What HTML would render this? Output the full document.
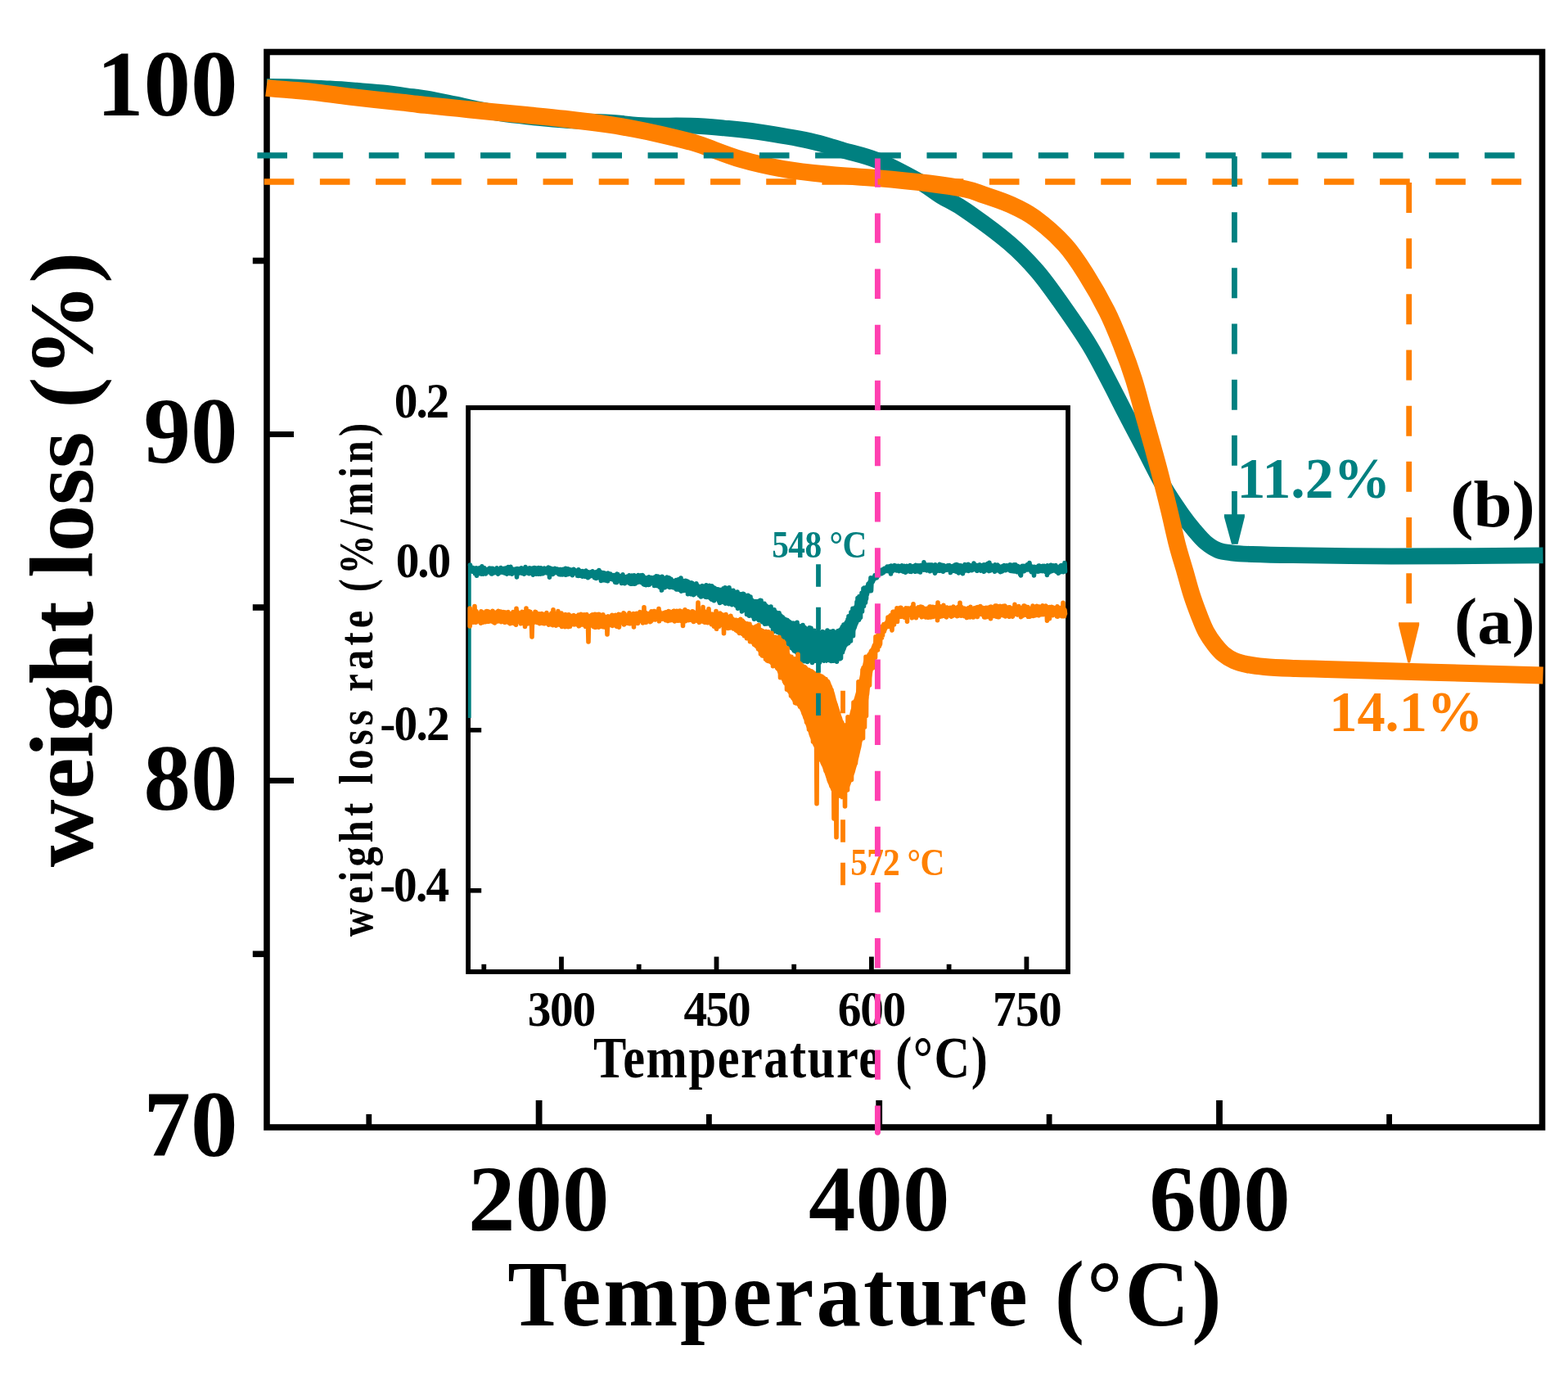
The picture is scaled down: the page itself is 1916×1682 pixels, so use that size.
<!DOCTYPE html><html><head><meta charset="utf-8"><title>TGA</title><style>html,body{margin:0;padding:0;background:#fff;overflow:hidden;}svg{display:block;}text{font-family:'Liberation Serif','Times New Roman',serif;font-weight:bold;}</style></head><body>
<svg width="1916" height="1682" viewBox="0 0 1916 1682">
<rect width="1916" height="1682" fill="#fff"/>
<rect x="326" y="63.5" width="1558.5" height="1313.5" fill="none" stroke="#000" stroke-width="7.6"/>
<g stroke="#000"><line x1="658.6" y1="1377" x2="658.6" y2="1344" stroke-width="7.8"/><line x1="1074.2" y1="1377" x2="1074.2" y2="1344" stroke-width="7.8"/><line x1="1490" y1="1377" x2="1490" y2="1344" stroke-width="7.8"/><line x1="450.8" y1="1377" x2="450.8" y2="1361" stroke-width="6.8"/><line x1="866.4" y1="1377" x2="866.4" y2="1361" stroke-width="6.8"/><line x1="1282.1" y1="1377" x2="1282.1" y2="1361" stroke-width="6.8"/><line x1="1697.6" y1="1377" x2="1697.6" y2="1361" stroke-width="6.8"/><line x1="326" y1="107.6" x2="359" y2="107.6" stroke-width="7"/><line x1="326" y1="530.5" x2="359" y2="530.5" stroke-width="7"/><line x1="326" y1="953.4" x2="359" y2="953.4" stroke-width="7"/><line x1="326" y1="318.5" x2="308.8" y2="318.5" stroke-width="7.6"/><line x1="326" y1="742" x2="308.8" y2="742" stroke-width="7.6"/><line x1="326" y1="1165.3" x2="308.8" y2="1165.3" stroke-width="7.6"/></g>
<text x="290.5" y="140.9" font-size="115" text-anchor="end">100</text>
<text x="290.5" y="565.0" font-size="115" text-anchor="end">90</text>
<text x="290.5" y="988.8" font-size="115" text-anchor="end">80</text>
<text x="290.5" y="1411.9" font-size="115" text-anchor="end">70</text>
<text x="658.2" y="1502.8" font-size="115" text-anchor="middle">200</text>
<text x="1074.3" y="1502.8" font-size="115" text-anchor="middle">400</text>
<text x="1490.5" y="1502.8" font-size="115" text-anchor="middle">600</text>
<text transform="translate(620.19,1619.00) scale(0.95,1)" x="0" y="0" font-size="115" fill="#000" textLength="918.43" lengthAdjust="spacing">Temperature (°C)</text>
<text transform="translate(113,1059.2) rotate(-90)" x="0" y="0" font-size="111" fill="#000" textLength="751.4" lengthAdjust="spacingAndGlyphs">weight loss (%)</text>
<rect x="572.1" y="498" width="732.9" height="689.0" fill="none" stroke="#000" stroke-width="5.8"/>
<g stroke="#000"><line x1="686" y1="1187" x2="686" y2="1168.6" stroke-width="5.8"/><line x1="875.5" y1="1187" x2="875.5" y2="1168.6" stroke-width="5.8"/><line x1="1064.9" y1="1187" x2="1064.9" y2="1168.6" stroke-width="5.8"/><line x1="1254.4" y1="1187" x2="1254.4" y2="1168.6" stroke-width="5.8"/><line x1="591.3" y1="1187" x2="591.3" y2="1177.8" stroke-width="5.8"/><line x1="780.7" y1="1187" x2="780.7" y2="1177.8" stroke-width="5.8"/><line x1="970.2" y1="1187" x2="970.2" y2="1177.8" stroke-width="5.8"/><line x1="1159.6" y1="1187" x2="1159.6" y2="1177.8" stroke-width="5.8"/><line x1="572.1" y1="695.8" x2="588.2" y2="695.8" stroke-width="5.6"/><line x1="572.1" y1="891.8" x2="588.2" y2="891.8" stroke-width="5.6"/><line x1="572.1" y1="1087.8" x2="588.2" y2="1087.8" stroke-width="5.6"/></g>
<text transform="translate(481.87,509.80) scale(0.94,1)" x="0" y="0" font-size="61" fill="#000" textLength="71.70" lengthAdjust="spacing">0.2</text>
<text transform="translate(483.81,705.20) scale(0.94,1)" x="0" y="0" font-size="61" fill="#000" textLength="71.68" lengthAdjust="spacing">0.0</text>
<text transform="translate(464.30,903.90) scale(0.94,1)" x="0" y="0" font-size="61" fill="#000" textLength="90.71" lengthAdjust="spacing">-0.2</text>
<text transform="translate(463.89,1100.90) scale(0.94,1)" x="0" y="0" font-size="61" fill="#000" textLength="90.61" lengthAdjust="spacing">-0.4</text>
<text transform="translate(644.64,1252.60) scale(0.94,1)" x="0" y="0" font-size="61" fill="#000" textLength="88.87" lengthAdjust="spacing">300</text>
<text transform="translate(835.52,1252.60) scale(0.94,1)" x="0" y="0" font-size="61" fill="#000" textLength="87.41" lengthAdjust="spacing">450</text>
<text transform="translate(1023.84,1252.60) scale(0.94,1)" x="0" y="0" font-size="61" fill="#000" textLength="88.66" lengthAdjust="spacing">600</text>
<text transform="translate(1212.92,1252.60) scale(0.94,1)" x="0" y="0" font-size="61" fill="#000" textLength="90.06" lengthAdjust="spacing">750</text>
<text transform="translate(724.95,1315.60) scale(0.84,1)" x="0" y="0" font-size="72" fill="#000" textLength="573.69" lengthAdjust="spacing">Temperature (°C)</text>
<text transform="translate(455.40,1144.24) rotate(-90) scale(0.81,1)" x="0" y="0" font-size="60" fill="#000" textLength="774.66" lengthAdjust="spacing">weight loss rate (%/min)</text>
<line x1="573.8" y1="690" x2="573.8" y2="877" stroke="#008080" stroke-width="3.8"/>
<polygon points="576.0,693.6 577.0,694.7 578.0,693.6 579.0,694.2 580.0,694.6 581.0,694.1 582.0,694.2 583.0,694.6 584.0,693.9 585.0,694.6 586.0,693.5 587.0,694.0 588.0,694.8 589.0,694.2 590.0,693.5 591.0,694.1 592.0,694.5 593.0,693.8 594.0,693.9 595.0,694.6 596.0,694.7 597.0,694.5 598.0,694.1 599.0,694.8 600.0,694.7 601.0,694.2 602.0,694.5 603.0,694.8 604.0,694.3 605.0,694.4 606.0,693.7 607.0,694.6 608.0,694.8 609.0,694.7 610.0,694.9 611.0,694.3 612.0,694.6 613.0,693.5 614.0,693.5 615.0,693.7 616.0,693.6 617.0,694.1 618.0,694.8 619.0,693.7 620.0,694.4 621.0,694.4 622.0,694.2 623.0,694.4 624.0,694.2 625.0,694.1 626.0,694.1 627.0,694.5 628.0,693.4 629.0,693.6 630.0,693.9 631.0,694.7 632.0,693.8 633.0,694.0 634.0,694.1 635.0,694.2 636.0,694.7 637.0,694.4 638.0,694.5 639.0,694.0 640.0,693.7 641.0,693.8 642.0,694.2 643.0,694.0 644.0,694.4 645.0,693.6 646.0,693.9 647.0,693.8 648.0,694.7 649.0,693.5 650.0,693.8 651.0,694.1 652.0,693.5 653.0,694.3 654.0,694.8 655.0,694.2 656.0,693.4 657.0,693.6 658.0,694.8 659.0,693.4 660.0,694.0 661.0,693.7 662.0,694.0 663.0,694.5 664.0,694.0 665.0,694.2 666.0,694.2 667.0,694.1 668.0,694.3 669.0,693.5 670.0,694.6 671.0,694.4 672.0,694.8 673.0,694.4 674.0,694.6 675.0,694.6 676.0,694.8 677.0,693.7 678.0,694.9 679.0,694.6 680.0,694.2 681.0,693.8 682.0,695.0 683.0,694.0 684.0,695.1 685.0,694.2 686.0,694.8 687.0,694.6 688.0,695.0 689.0,695.2 690.0,694.7 691.0,694.5 692.0,694.5 693.0,694.5 694.0,695.7 695.0,694.6 696.0,695.9 697.0,695.2 698.0,695.8 699.0,695.8 700.0,695.5 701.0,695.9 702.0,695.9 703.0,695.9 704.0,695.7 705.0,695.5 706.0,697.1 707.0,696.2 708.0,696.8 709.0,697.2 710.0,697.5 711.0,697.5 712.0,697.7 713.0,697.4 714.0,696.9 715.0,698.1 716.0,696.9 717.0,697.5 718.0,697.3 719.0,698.6 720.0,697.9 721.0,698.6 722.0,697.6 723.0,698.9 724.0,698.7 725.0,698.8 726.0,698.8 727.0,698.3 728.0,698.2 729.0,699.6 730.0,698.5 731.0,699.0 732.0,699.3 733.0,698.9 734.0,698.9 735.0,699.5 736.0,699.1 737.0,700.2 738.0,700.5 739.0,700.0 740.0,699.6 741.0,700.3 742.0,700.1 743.0,699.9 744.0,700.4 745.0,701.2 746.0,701.6 747.0,700.7 748.0,700.6 749.0,701.4 750.0,701.0 751.0,701.9 752.0,700.9 753.0,702.0 754.0,701.6 755.0,702.2 756.0,702.6 757.0,701.8 758.0,701.7 759.0,701.7 760.0,702.8 761.0,702.7 762.0,702.9 763.0,701.9 764.0,702.1 765.0,701.9 766.0,701.8 767.0,703.2 768.0,702.4 769.0,703.2 770.0,703.0 771.0,702.8 772.0,702.8 773.0,702.2 774.0,703.2 775.0,703.2 776.0,702.7 777.0,702.7 778.0,703.5 779.0,702.6 780.0,702.9 781.0,703.8 782.0,702.7 783.0,703.1 784.0,702.9 785.0,703.4 786.0,702.8 787.0,702.6 788.0,702.6 789.0,703.7 790.0,703.3 791.0,703.0 792.0,703.0 793.0,703.2 794.0,703.2 795.0,703.9 796.0,703.7 797.0,703.8 798.0,703.9 799.0,704.5 800.0,703.7 801.0,703.8 802.0,704.3 803.0,703.5 804.0,704.4 805.0,704.7 806.0,703.9 807.0,703.8 808.0,704.6 809.0,704.9 810.0,704.5 811.0,704.7 812.0,704.4 813.0,705.9 814.0,705.5 815.0,705.8 816.0,705.9 817.0,705.8 818.0,706.6 819.0,706.6 820.0,706.8 821.0,706.3 822.0,706.2 823.0,707.2 824.0,707.2 825.0,707.5 826.0,708.1 827.0,707.5 828.0,708.2 829.0,707.5 830.0,707.6 831.0,708.8 832.0,709.4 833.0,708.7 834.0,709.1 835.0,709.7 836.0,709.0 837.0,709.2 838.0,710.0 839.0,710.6 840.0,709.9 841.0,710.2 842.0,711.6 843.0,710.5 844.0,710.5 845.0,710.8 846.0,712.4 847.0,712.6 848.0,712.5 849.0,712.6 850.0,711.8 851.0,712.5 852.0,713.0 853.0,713.4 854.0,713.3 855.0,714.1 856.0,713.8 857.0,714.2 858.0,714.1 859.0,714.1 860.0,714.0 861.0,715.3 862.0,715.2 863.0,714.4 864.0,715.2 865.0,714.8 866.0,715.0 867.0,716.0 868.0,716.1 869.0,716.0 870.0,715.8 871.0,715.8 872.0,715.8 873.0,716.4 874.0,717.1 875.0,716.5 876.0,716.9 877.0,717.7 878.0,717.9 879.0,718.0 880.0,717.6 881.0,717.9 882.0,717.9 883.0,718.0 884.0,717.5 885.0,718.3 886.0,718.0 887.0,718.4 888.0,718.8 889.0,718.8 890.0,719.7 891.0,719.0 892.0,719.8 893.0,720.0 894.0,719.8 895.0,720.7 896.0,720.3 897.0,720.2 898.0,720.8 899.0,722.0 900.0,721.0 901.0,721.1 902.0,721.9 903.0,722.0 904.0,723.5 905.0,724.1 906.0,723.5 907.0,723.7 908.0,724.2 909.0,724.8 910.0,725.0 911.0,726.1 912.0,726.7 913.0,726.7 914.0,727.7 915.0,728.0 916.0,728.1 917.0,729.7 918.0,729.6 919.0,730.9 920.0,730.0 921.0,731.7 922.0,732.1 923.0,731.8 924.0,732.0 925.0,731.9 926.0,732.1 927.0,733.2 928.0,733.9 929.0,733.9 930.0,734.0 931.0,733.7 932.0,734.3 933.0,735.3 934.0,735.2 935.0,735.5 936.0,736.9 937.0,736.8 938.0,737.9 939.0,738.9 940.0,739.2 941.0,740.4 942.0,741.0 943.0,740.3 944.0,742.2 945.0,742.8 946.0,743.5 947.0,744.6 948.0,744.4 949.0,745.2 950.0,745.8 951.0,746.5 952.0,747.9 953.0,748.4 954.0,749.4 955.0,749.2 956.0,750.1 957.0,751.4 958.0,751.3 959.0,753.2 960.0,753.7 961.0,754.6 962.0,755.1 963.0,754.7 964.0,755.4 965.0,756.5 966.0,757.3 967.0,757.8 968.0,758.7 969.0,758.2 970.0,759.2 971.0,759.5 972.0,759.4 973.0,760.3 974.0,760.2 975.0,760.8 976.0,760.7 977.0,761.8 978.0,762.5 979.0,761.7 980.0,762.8 981.0,763.8 982.0,764.0 983.0,764.0 984.0,765.2 985.0,764.8 986.0,765.6 987.0,766.2 988.0,766.3 989.0,767.1 990.0,767.6 991.0,767.7 992.0,768.3 993.0,769.0 994.0,769.7 995.0,769.1 996.0,769.6 997.0,769.9 998.0,770.5 999.0,771.9 1000.0,771.2 1001.0,771.7 1002.0,771.9 1003.0,771.5 1004.0,772.9 1005.0,771.7 1006.0,772.2 1007.0,772.0 1008.0,772.7 1009.0,772.1 1010.0,772.1 1011.0,772.8 1012.0,772.6 1013.0,771.5 1014.0,772.3 1015.0,771.0 1016.0,771.7 1017.0,770.4 1018.0,770.6 1019.0,770.1 1020.0,769.7 1021.0,770.1 1022.0,768.5 1023.0,768.0 1024.0,767.9 1025.0,767.3 1026.0,766.4 1027.0,764.1 1028.0,763.1 1029.0,763.1 1030.0,761.1 1031.0,760.7 1032.0,758.8 1033.0,757.9 1034.0,756.7 1035.0,754.2 1036.0,753.3 1037.0,750.7 1038.0,749.2 1039.0,747.8 1040.0,746.0 1041.0,744.0 1042.0,741.6 1043.0,740.5 1044.0,739.0 1045.0,736.7 1046.0,735.1 1047.0,733.1 1048.0,730.8 1049.0,729.4 1050.0,727.0 1051.0,725.1 1052.0,723.8 1053.0,722.1 1054.0,720.5 1055.0,718.6 1056.0,717.7 1057.0,716.2 1058.0,713.9 1059.0,712.9 1060.0,712.0 1061.0,710.3 1062.0,709.3 1063.0,708.0 1064.0,706.7 1065.0,706.1 1066.0,704.1 1067.0,703.4 1068.0,703.1 1069.0,702.4 1070.0,702.2 1071.0,700.5 1072.0,700.6 1073.0,699.6 1074.0,698.8 1075.0,698.6 1076.0,697.3 1077.0,697.0 1078.0,696.2 1079.0,695.5 1080.0,694.9 1081.0,692.9 1082.0,692.5 1083.0,691.8 1084.0,691.0 1085.0,691.2 1086.0,691.7 1087.0,691.4 1088.0,691.0 1089.0,691.2 1090.0,691.9 1091.0,690.9 1092.0,690.9 1093.0,691.2 1094.0,691.1 1095.0,691.9 1096.0,691.6 1097.0,691.6 1098.0,690.4 1099.0,690.8 1100.0,690.4 1101.0,691.2 1102.0,691.1 1103.0,690.4 1104.0,691.4 1105.0,691.1 1106.0,690.3 1107.0,690.6 1108.0,690.4 1109.0,690.6 1110.0,690.9 1111.0,690.4 1112.0,691.4 1113.0,691.4 1114.0,691.5 1115.0,690.7 1116.0,690.9 1117.0,691.2 1118.0,691.0 1119.0,691.3 1120.0,690.6 1121.0,691.2 1122.0,691.0 1123.0,691.3 1124.0,690.4 1125.0,690.5 1126.0,690.9 1127.0,691.2 1128.0,690.1 1129.0,690.5 1130.0,691.1 1131.0,690.2 1132.0,690.6 1133.0,690.4 1134.0,691.1 1135.0,690.5 1136.0,690.5 1137.0,690.6 1138.0,690.8 1139.0,689.9 1140.0,691.1 1141.0,690.9 1142.0,690.0 1143.0,690.9 1144.0,690.8 1145.0,690.7 1146.0,690.6 1147.0,690.2 1148.0,691.0 1149.0,689.9 1150.0,690.4 1151.0,690.9 1152.0,690.0 1153.0,689.8 1154.0,689.6 1155.0,690.6 1156.0,690.7 1157.0,690.3 1158.0,689.7 1159.0,690.8 1160.0,689.8 1161.0,690.9 1162.0,690.8 1163.0,690.1 1164.0,689.8 1165.0,689.5 1166.0,690.9 1167.0,689.6 1168.0,690.8 1169.0,690.9 1170.0,690.9 1171.0,690.6 1172.0,690.7 1173.0,689.9 1174.0,690.6 1175.0,690.0 1176.0,689.7 1177.0,689.5 1178.0,690.8 1179.0,690.6 1180.0,689.7 1181.0,690.3 1182.0,690.9 1183.0,689.7 1184.0,690.2 1185.0,690.4 1186.0,690.1 1187.0,689.9 1188.0,690.8 1189.0,690.1 1190.0,690.8 1191.0,689.6 1192.0,690.5 1193.0,689.8 1194.0,690.1 1195.0,690.5 1196.0,690.1 1197.0,689.9 1198.0,690.7 1199.0,689.5 1200.0,690.7 1201.0,690.6 1202.0,689.9 1203.0,690.3 1204.0,691.0 1205.0,689.9 1206.0,690.7 1207.0,690.9 1208.0,689.6 1209.0,689.8 1210.0,690.4 1211.0,689.9 1212.0,689.6 1213.0,690.9 1214.0,689.9 1215.0,690.5 1216.0,689.6 1217.0,690.4 1218.0,690.3 1219.0,690.2 1220.0,690.5 1221.0,690.7 1222.0,690.6 1223.0,690.6 1224.0,690.5 1225.0,690.8 1226.0,690.0 1227.0,690.6 1228.0,689.6 1229.0,690.3 1230.0,691.0 1231.0,691.0 1232.0,691.0 1233.0,690.8 1234.0,690.5 1235.0,690.7 1236.0,691.1 1237.0,690.4 1238.0,691.1 1239.0,691.1 1240.0,690.2 1241.0,691.0 1242.0,690.4 1243.0,691.0 1244.0,691.1 1245.0,690.4 1246.0,690.7 1247.0,691.2 1248.0,690.4 1249.0,690.1 1250.0,689.9 1251.0,690.5 1252.0,691.1 1253.0,690.1 1254.0,691.1 1255.0,690.6 1256.0,689.8 1257.0,689.9 1258.0,689.9 1259.0,690.7 1260.0,690.9 1261.0,690.1 1262.0,690.6 1263.0,690.1 1264.0,690.3 1265.0,690.2 1266.0,689.8 1267.0,690.3 1268.0,690.4 1269.0,690.1 1270.0,690.7 1271.0,691.3 1272.0,691.2 1273.0,690.3 1274.0,690.3 1275.0,690.6 1276.0,691.3 1277.0,690.9 1278.0,690.2 1279.0,690.4 1280.0,689.9 1281.0,690.2 1282.0,690.2 1283.0,690.3 1284.0,690.7 1285.0,690.3 1286.0,691.1 1287.0,690.6 1288.0,689.9 1289.0,690.8 1290.0,691.1 1291.0,690.7 1292.0,689.8 1293.0,691.0 1294.0,690.5 1295.0,691.2 1296.0,690.0 1297.0,690.3 1298.0,689.9 1299.0,690.5 1300.0,690.8 1301.0,690.0 1301.5,698.6 1300.5,697.7 1299.5,697.3 1298.5,698.5 1297.5,697.7 1296.5,697.4 1295.5,697.6 1294.5,697.6 1293.5,697.4 1292.5,698.7 1291.5,698.3 1290.5,698.7 1289.5,698.0 1288.5,698.2 1287.5,698.3 1286.5,697.4 1285.5,697.6 1284.5,698.7 1283.5,697.7 1282.5,698.7 1281.5,698.3 1280.5,697.8 1279.5,698.6 1278.5,697.8 1277.5,697.4 1276.5,697.6 1275.5,697.3 1274.5,698.4 1273.5,697.7 1272.5,697.6 1271.5,698.7 1270.5,698.0 1269.5,698.4 1268.5,697.5 1267.5,698.5 1266.5,697.3 1265.5,698.2 1264.5,698.6 1263.5,697.2 1262.5,698.4 1261.5,697.4 1260.5,698.1 1259.5,697.3 1258.5,698.6 1257.5,697.4 1256.5,697.3 1255.5,697.4 1254.5,697.7 1253.5,697.9 1252.5,697.6 1251.5,698.5 1250.5,698.0 1249.5,697.2 1248.5,697.8 1247.5,698.3 1246.5,698.3 1245.5,697.5 1244.5,697.3 1243.5,698.5 1242.5,698.5 1241.5,697.3 1240.5,698.0 1239.5,697.8 1238.5,697.3 1237.5,697.8 1236.5,698.2 1235.5,698.0 1234.5,698.1 1233.5,697.7 1232.5,697.9 1231.5,697.0 1230.5,698.4 1229.5,697.9 1228.5,697.9 1227.5,697.9 1226.5,698.0 1225.5,697.5 1224.5,698.2 1223.5,697.2 1222.5,697.8 1221.5,697.3 1220.5,698.1 1219.5,698.3 1218.5,697.7 1217.5,697.0 1216.5,697.4 1215.5,698.2 1214.5,697.9 1213.5,697.2 1212.5,696.9 1211.5,698.0 1210.5,697.2 1209.5,698.1 1208.5,697.0 1207.5,697.3 1206.5,697.9 1205.5,697.1 1204.5,697.8 1203.5,697.3 1202.5,697.1 1201.5,697.4 1200.5,697.4 1199.5,697.3 1198.5,698.1 1197.5,697.4 1196.5,698.0 1195.5,697.2 1194.5,697.9 1193.5,696.8 1192.5,698.2 1191.5,697.3 1190.5,697.8 1189.5,697.1 1188.5,696.9 1187.5,697.9 1186.5,697.5 1185.5,697.1 1184.5,697.0 1183.5,697.7 1182.5,697.3 1181.5,697.4 1180.5,697.4 1179.5,697.4 1178.5,697.0 1177.5,698.1 1176.5,697.0 1175.5,697.3 1174.5,697.7 1173.5,697.5 1172.5,697.8 1171.5,697.6 1170.5,697.5 1169.5,697.4 1168.5,697.2 1167.5,697.7 1166.5,697.4 1165.5,697.5 1164.5,698.0 1163.5,697.1 1162.5,697.5 1161.5,698.0 1160.5,697.2 1159.5,697.3 1158.5,697.8 1157.5,696.7 1156.5,696.7 1155.5,697.3 1154.5,697.2 1153.5,697.2 1152.5,696.8 1151.5,696.6 1150.5,697.6 1149.5,696.8 1148.5,697.0 1147.5,697.5 1146.5,698.1 1145.5,697.1 1144.5,697.2 1143.5,698.1 1142.5,697.1 1141.5,696.7 1140.5,697.0 1139.5,697.0 1138.5,697.0 1137.5,697.9 1136.5,696.6 1135.5,697.5 1134.5,696.9 1133.5,697.7 1132.5,697.1 1131.5,697.8 1130.5,697.5 1129.5,697.9 1128.5,697.6 1127.5,697.9 1126.5,697.6 1125.5,697.0 1124.5,697.9 1123.5,698.0 1122.5,697.5 1121.5,698.0 1120.5,698.2 1119.5,697.1 1118.5,697.4 1117.5,697.2 1116.5,698.1 1115.5,697.4 1114.5,696.8 1113.5,697.1 1112.5,698.3 1111.5,697.0 1110.5,697.4 1109.5,698.2 1108.5,698.0 1107.5,697.0 1106.5,697.0 1105.5,697.6 1104.5,697.1 1103.5,697.0 1102.5,698.4 1101.5,698.3 1100.5,697.1 1099.5,697.7 1098.5,698.1 1097.5,697.1 1096.5,697.8 1095.5,697.5 1094.5,697.1 1093.5,697.6 1092.5,698.5 1091.5,698.0 1090.5,697.5 1089.5,698.1 1088.5,697.9 1087.5,697.5 1086.5,698.7 1085.5,698.2 1084.5,697.7 1083.5,697.9 1082.5,697.6 1081.5,698.3 1080.5,698.7 1079.5,698.6 1078.5,700.3 1077.5,700.6 1076.5,700.9 1075.5,702.3 1074.5,702.6 1073.5,703.2 1072.5,705.7 1071.5,705.9 1070.5,706.8 1069.5,708.8 1068.5,710.1 1067.5,711.4 1066.5,713.7 1065.5,715.7 1064.5,717.2 1063.5,719.8 1062.5,722.1 1061.5,725.0 1060.5,728.2 1059.5,731.1 1058.5,732.7 1057.5,736.2 1056.5,739.7 1055.5,742.2 1054.5,745.2 1053.5,748.1 1052.5,751.0 1051.5,753.1 1050.5,756.3 1049.5,760.0 1048.5,762.5 1047.5,764.9 1046.5,768.3 1045.5,769.6 1044.5,773.2 1043.5,775.2 1042.5,777.1 1041.5,779.2 1040.5,780.5 1039.5,782.0 1038.5,785.0 1037.5,786.6 1036.5,788.5 1035.5,789.4 1034.5,790.7 1033.5,793.7 1032.5,795.4 1031.5,796.7 1030.5,798.7 1029.5,799.7 1028.5,801.8 1027.5,802.9 1026.5,805.1 1025.5,806.1 1024.5,807.2 1023.5,807.2 1022.5,808.9 1021.5,808.1 1020.5,809.4 1019.5,809.7 1018.5,809.9 1017.5,809.9 1016.5,809.7 1015.5,809.5 1014.5,809.3 1013.5,809.1 1012.5,809.2 1011.5,809.1 1010.5,809.7 1009.5,809.9 1008.5,809.3 1007.5,810.1 1006.5,810.1 1005.5,809.4 1004.5,809.3 1003.5,809.1 1002.5,809.3 1001.5,809.9 1000.5,809.2 999.5,808.8 998.5,808.9 997.5,809.8 996.5,809.9 995.5,810.1 994.5,809.3 993.5,809.9 992.5,808.9 991.5,809.0 990.5,809.9 989.5,809.5 988.5,809.1 987.5,809.3 986.5,808.5 985.5,808.3 984.5,809.0 983.5,808.6 982.5,808.3 981.5,806.7 980.5,807.3 979.5,805.8 978.5,805.3 977.5,804.4 976.5,803.5 975.5,803.7 974.5,802.6 973.5,801.6 972.5,800.2 971.5,798.5 970.5,797.7 969.5,796.9 968.5,796.5 967.5,795.3 966.5,793.4 965.5,792.7 964.5,792.1 963.5,790.6 962.5,789.1 961.5,788.9 960.5,787.1 959.5,785.7 958.5,785.3 957.5,782.9 956.5,781.9 955.5,781.6 954.5,779.1 953.5,778.6 952.5,777.4 951.5,776.4 950.5,774.6 949.5,773.2 948.5,773.0 947.5,772.0 946.5,771.5 945.5,770.4 944.5,769.5 943.5,769.2 942.5,767.8 941.5,767.0 940.5,766.9 939.5,765.1 938.5,764.1 937.5,764.7 936.5,763.5 935.5,763.5 934.5,762.9 933.5,762.3 932.5,761.5 931.5,760.6 930.5,760.5 929.5,759.3 928.5,759.1 927.5,758.8 926.5,758.1 925.5,758.1 924.5,757.8 923.5,757.8 922.5,756.7 921.5,756.3 920.5,756.8 919.5,755.3 918.5,755.5 917.5,753.8 916.5,753.6 915.5,753.3 914.5,751.5 913.5,751.8 912.5,750.3 911.5,749.9 910.5,748.4 909.5,748.0 908.5,747.8 907.5,746.8 906.5,746.0 905.5,746.2 904.5,744.3 903.5,745.0 902.5,744.0 901.5,743.6 900.5,742.6 899.5,742.5 898.5,741.8 897.5,740.8 896.5,740.3 895.5,740.5 894.5,739.6 893.5,739.9 892.5,739.5 891.5,738.7 890.5,738.9 889.5,737.6 888.5,738.3 887.5,737.1 886.5,737.3 885.5,737.5 884.5,736.9 883.5,736.5 882.5,736.1 881.5,734.9 880.5,734.7 879.5,734.2 878.5,734.9 877.5,735.0 876.5,734.4 875.5,734.3 874.5,732.8 873.5,733.7 872.5,732.4 871.5,733.3 870.5,732.5 869.5,732.2 868.5,731.4 867.5,731.4 866.5,731.3 865.5,730.4 864.5,730.4 863.5,730.3 862.5,729.7 861.5,729.3 860.5,730.2 859.5,729.5 858.5,729.3 857.5,729.2 856.5,728.7 855.5,728.2 854.5,727.2 853.5,727.6 852.5,726.8 851.5,727.0 850.5,727.4 849.5,726.7 848.5,726.3 847.5,726.2 846.5,725.7 845.5,725.8 844.5,725.1 843.5,725.0 842.5,724.5 841.5,723.9 840.5,724.8 839.5,723.7 838.5,723.4 837.5,724.1 836.5,722.8 835.5,723.3 834.5,722.4 833.5,723.0 832.5,722.4 831.5,721.9 830.5,721.6 829.5,721.4 828.5,720.6 827.5,721.7 826.5,720.3 825.5,720.2 824.5,719.9 823.5,720.7 822.5,720.4 821.5,720.2 820.5,719.6 819.5,719.3 818.5,719.3 817.5,719.1 816.5,719.3 815.5,719.2 814.5,718.3 813.5,718.1 812.5,717.8 811.5,717.4 810.5,717.3 809.5,717.4 808.5,716.5 807.5,717.6 806.5,717.3 805.5,716.7 804.5,716.2 803.5,716.1 802.5,716.0 801.5,716.6 800.5,715.8 799.5,716.3 798.5,716.4 797.5,715.6 796.5,715.0 795.5,715.0 794.5,716.0 793.5,715.2 792.5,714.4 791.5,715.6 790.5,715.2 789.5,715.1 788.5,714.0 787.5,714.1 786.5,713.8 785.5,714.7 784.5,714.6 783.5,714.5 782.5,714.1 781.5,713.5 780.5,713.2 779.5,713.9 778.5,713.3 777.5,714.0 776.5,713.2 775.5,712.7 774.5,713.3 773.5,712.8 772.5,712.7 771.5,712.3 770.5,713.3 769.5,712.9 768.5,713.3 767.5,712.1 766.5,712.1 765.5,712.5 764.5,712.2 763.5,711.9 762.5,712.4 761.5,711.9 760.5,711.7 759.5,711.8 758.5,712.0 757.5,711.9 756.5,710.6 755.5,710.6 754.5,710.3 753.5,710.3 752.5,709.9 751.5,709.8 750.5,710.8 749.5,709.5 748.5,709.7 747.5,709.7 746.5,710.0 745.5,710.1 744.5,710.1 743.5,709.8 742.5,709.7 741.5,708.4 740.5,708.2 739.5,708.7 738.5,708.7 737.5,708.4 736.5,707.4 735.5,707.7 734.5,708.3 733.5,707.4 732.5,708.0 731.5,706.6 730.5,706.9 729.5,706.7 728.5,707.0 727.5,706.7 726.5,706.0 725.5,706.2 724.5,705.6 723.5,706.4 722.5,705.4 721.5,706.3 720.5,705.3 719.5,705.0 718.5,705.0 717.5,704.7 716.5,705.4 715.5,705.2 714.5,704.9 713.5,704.1 712.5,704.3 711.5,704.8 710.5,703.7 709.5,704.3 708.5,703.5 707.5,703.8 706.5,703.7 705.5,704.0 704.5,702.5 703.5,703.5 702.5,702.8 701.5,703.2 700.5,702.0 699.5,702.7 698.5,702.2 697.5,701.9 696.5,702.1 695.5,701.5 694.5,702.6 693.5,701.6 692.5,702.2 691.5,701.9 690.5,702.0 689.5,702.4 688.5,702.2 687.5,702.2 686.5,701.8 685.5,701.9 684.5,701.3 683.5,702.0 682.5,701.6 681.5,701.7 680.5,701.1 679.5,701.5 678.5,701.2 677.5,701.7 676.5,701.3 675.5,700.5 674.5,700.6 673.5,701.7 672.5,700.5 671.5,701.4 670.5,700.4 669.5,701.4 668.5,700.4 667.5,700.5 666.5,701.7 665.5,701.4 664.5,700.7 663.5,701.6 662.5,701.1 661.5,701.2 660.5,700.9 659.5,700.3 658.5,700.4 657.5,701.1 656.5,700.7 655.5,700.0 654.5,700.5 653.5,700.6 652.5,700.3 651.5,700.7 650.5,700.0 649.5,701.0 648.5,700.9 647.5,700.1 646.5,700.7 645.5,700.3 644.5,701.0 643.5,701.1 642.5,700.9 641.5,700.6 640.5,700.7 639.5,701.0 638.5,699.9 637.5,700.7 636.5,700.2 635.5,701.3 634.5,700.7 633.5,701.3 632.5,701.2 631.5,700.0 630.5,701.1 629.5,700.2 628.5,701.3 627.5,700.1 626.5,701.2 625.5,700.5 624.5,700.2 623.5,700.1 622.5,701.3 621.5,700.5 620.5,700.4 619.5,700.6 618.5,700.6 617.5,700.8 616.5,701.3 615.5,700.5 614.5,700.4 613.5,700.2 612.5,700.3 611.5,700.0 610.5,701.3 609.5,701.1 608.5,700.7 607.5,699.8 606.5,700.5 605.5,700.8 604.5,700.6 603.5,700.8 602.5,700.9 601.5,700.6 600.5,700.1 599.5,700.6 598.5,700.8 597.5,700.3 596.5,700.6 595.5,700.1 594.5,701.3 593.5,700.3 592.5,700.4 591.5,700.5 590.5,701.2 589.5,700.2 588.5,701.2 587.5,700.1 586.5,699.8 585.5,700.6 584.5,699.9 583.5,700.0 582.5,701.0 581.5,700.9 580.5,700.0 579.5,700.7 578.5,700.8 577.5,701.0 576.5,700.2" fill="#008080"/><polyline points="574.5,690.0 576.0,697.0 576.0,696.4 576.5,698.0 577.0,694.9 577.5,698.1 578.0,693.6 578.5,698.4 579.0,696.7 579.5,698.9 580.0,694.4 580.5,700.8 581.0,695.1 581.5,698.2 582.0,693.7 582.5,703.2 583.0,695.3 583.5,698.7 584.0,697.2 584.5,697.8 585.0,694.4 585.5,698.1 586.0,693.9 586.5,700.8 587.0,694.5 587.5,698.4 588.0,696.3 588.5,701.1 589.0,691.9 589.5,698.6 590.0,696.6 590.5,701.2 591.0,695.4 591.5,700.8 592.0,693.8 592.5,698.6 593.0,697.0 593.5,700.9 594.0,695.5 594.5,697.5 595.0,696.2 595.5,697.8 596.0,697.2 596.5,698.4 597.0,695.0 597.5,699.0 598.0,694.0 598.5,697.5 599.0,695.6 599.5,698.5 600.0,694.3 600.5,701.0 601.0,696.5 601.5,700.9 602.0,694.3 602.5,699.4 603.0,697.0 603.5,698.6 604.0,696.7 604.5,699.6 605.0,695.2 605.5,697.9 606.0,696.1 606.5,699.5 607.0,693.8 607.5,698.9 608.0,697.4 608.5,701.2 609.0,696.5 609.5,700.3 610.0,696.5 610.5,698.3 611.0,695.2 611.5,697.6 612.0,693.6 612.5,698.4 613.0,696.5 613.5,699.1 614.0,695.5 614.5,697.5 615.0,696.1 615.5,699.0 616.0,694.2 616.5,699.9 617.0,696.9 617.5,700.3 618.0,695.5 618.5,698.0 619.0,693.7 619.5,701.1 620.0,694.3 620.5,699.3 621.0,692.6 621.5,698.1 622.0,696.6 622.5,700.5 623.0,694.7 623.5,699.1 624.0,692.3 624.5,700.4 625.0,696.9 625.5,701.2 626.0,696.3 626.5,699.2 627.0,696.6 627.5,698.8 628.0,695.4 628.5,699.8 629.0,696.9 629.5,697.5 630.0,695.2 630.5,699.4 631.0,696.5 631.5,704.9 632.0,694.5 632.5,701.2 633.0,695.7 633.5,699.8 634.0,694.8 634.5,699.9 635.0,695.8 635.5,698.9 636.0,694.9 636.5,698.4 637.0,693.7 637.5,700.2 638.0,696.7 638.5,698.6 639.0,697.1 639.5,699.7 640.0,696.6 640.5,701.2 641.0,696.3 641.5,698.0 642.0,692.5 642.5,699.7 643.0,693.8 643.5,699.6 644.0,696.6 644.5,697.4 645.0,695.4 645.5,699.9 646.0,695.6 646.5,700.7 647.0,693.7 647.5,699.9 648.0,696.6 648.5,699.3 649.0,694.4 649.5,699.9 650.0,697.3 650.5,700.6 651.0,696.7 651.5,702.2 652.0,693.9 652.5,697.5 653.0,693.5 653.5,700.3 654.0,697.4 654.5,698.4 655.0,694.1 655.5,701.2 656.0,696.7 656.5,698.6 657.0,696.3 657.5,699.7 658.0,693.6 658.5,701.3 659.0,695.4 659.5,699.7 660.0,694.8 660.5,701.2 661.0,693.8 661.5,700.5 662.0,696.1 662.5,699.2 663.0,696.0 663.5,700.7 664.0,695.9 664.5,699.0 665.0,694.1 665.5,699.4 666.0,695.3 666.5,699.5 667.0,696.0 667.5,699.7 668.0,694.3 668.5,697.8 669.0,694.8 669.5,700.1 670.0,693.1 670.5,699.5 671.0,697.5 671.5,705.1 672.0,693.7 672.5,698.8 673.0,696.6 673.5,700.6 674.0,694.6 674.5,701.3 675.0,696.6 675.5,701.4 676.0,695.6 676.5,697.8 677.0,695.5 677.5,700.0 678.0,694.2 678.5,698.5 679.0,695.6 679.5,699.5 680.0,696.7 680.5,698.8 681.0,695.0 681.5,699.6 682.0,696.2 682.5,701.0 683.0,697.3 683.5,701.8 684.0,695.5 684.5,700.3 685.0,695.5 685.5,701.9 686.0,697.7 686.5,699.1 687.0,697.7 687.5,702.0 688.0,695.2 688.5,699.7 689.0,697.2 689.5,700.6 690.0,698.1 690.5,699.0 691.0,694.4 691.5,702.2 692.0,694.6 692.5,699.7 693.0,696.5 693.5,701.1 694.0,694.7 694.5,701.5 695.0,695.8 695.5,699.3 696.0,695.5 696.5,699.9 697.0,697.6 697.5,700.2 698.0,696.3 698.5,701.3 699.0,696.0 699.5,702.8 700.0,695.8 700.5,700.5 701.0,695.2 701.5,700.5 702.0,697.9 702.5,699.5 703.0,696.8 703.5,699.9 704.0,697.5 704.5,700.2 705.0,697.8 705.5,703.3 706.0,699.4 706.5,703.5 707.0,695.9 707.5,702.1 708.0,699.6 708.5,703.3 709.0,697.2 709.5,703.1 710.0,699.0 710.5,703.1 711.0,700.0 711.5,704.1 712.0,697.6 712.5,700.9 713.0,699.9 713.5,700.9 714.0,700.5 714.5,704.3 715.0,700.5 715.5,702.2 716.0,697.1 716.5,704.4 717.0,701.2 717.5,702.0 718.0,701.2 718.5,705.8 719.0,698.7 719.5,702.3 720.0,700.9 720.5,704.2 721.0,700.3 721.5,702.6 722.0,698.7 722.5,703.4 723.0,702.0 723.5,702.3 724.0,697.8 724.5,703.4 725.0,698.6 725.5,703.4 726.0,699.8 726.5,705.7 727.0,700.8 727.5,704.0 728.0,700.1 728.5,706.5 729.0,698.6 729.5,704.5 730.0,699.7 730.5,705.0 731.0,698.3 731.5,705.7 732.0,696.5 732.5,705.8 733.0,701.1 733.5,706.3 734.0,698.9 734.5,709.4 735.0,699.7 735.5,704.8 736.0,702.4 736.5,705.7 737.0,699.5 737.5,708.7 738.0,702.3 738.5,708.8 739.0,700.1 739.5,706.9 740.0,701.3 740.5,709.0 741.0,703.1 741.5,709.1 742.0,704.0 742.5,709.8 743.0,700.1 743.5,707.8 744.0,704.0 744.5,705.8 745.0,701.8 745.5,707.2 746.0,701.1 746.5,705.7 747.0,705.2 747.5,707.4 748.0,704.6 748.5,706.9 749.0,705.5 749.5,708.2 750.0,702.6 750.5,708.4 751.0,704.1 751.5,711.1 752.0,705.5 752.5,706.3 753.0,702.2 753.5,711.5 754.0,701.1 754.5,707.5 755.0,701.6 755.5,708.0 756.0,704.6 756.5,709.6 757.0,705.3 757.5,708.8 758.0,703.8 758.5,707.5 759.0,704.1 759.5,712.4 760.0,704.7 760.5,708.8 761.0,701.8 761.5,710.1 762.0,706.3 762.5,707.7 763.0,706.1 763.5,712.8 764.0,706.4 764.5,708.4 765.0,705.3 765.5,707.8 766.0,704.6 766.5,707.8 767.0,704.0 767.5,710.8 768.0,706.6 768.5,712.1 769.0,702.9 769.5,709.3 770.0,704.5 770.5,713.2 771.0,707.5 771.5,709.5 772.0,703.1 772.5,713.2 773.0,703.9 773.5,712.8 774.0,706.5 774.5,712.7 775.0,702.8 775.5,713.3 776.0,703.4 776.5,712.9 777.0,703.7 777.5,708.3 778.0,707.8 778.5,709.6 779.0,704.4 779.5,711.1 780.0,702.5 780.5,708.8 781.0,707.2 781.5,708.7 782.0,708.0 782.5,709.1 783.0,702.9 783.5,709.5 784.0,707.8 784.5,708.8 785.0,702.6 785.5,710.7 786.0,703.6 786.5,713.6 787.0,708.6 787.5,714.2 788.0,706.7 788.5,713.7 789.0,706.1 789.5,714.6 790.0,706.5 790.5,711.0 791.0,706.7 791.5,711.4 792.0,709.1 792.5,714.4 793.0,704.7 793.5,714.3 794.0,708.1 794.5,710.8 795.0,708.5 795.5,710.1 796.0,705.5 796.5,711.5 797.0,708.5 797.5,709.8 798.0,708.8 798.5,710.4 799.0,708.5 799.5,715.5 800.0,705.1 800.5,715.2 801.0,705.6 801.5,711.4 802.0,703.7 802.5,713.6 803.0,704.9 803.5,715.6 804.0,704.1 804.5,714.7 805.0,704.9 805.5,711.4 806.0,706.2 806.5,717.3 807.0,707.9 807.5,712.7 808.0,710.1 808.5,721.0 809.0,704.3 809.5,717.7 810.0,710.0 810.5,717.9 811.0,710.0 811.5,714.4 812.0,706.6 812.5,717.6 813.0,709.2 813.5,712.9 814.0,707.5 814.5,715.3 815.0,705.0 815.5,715.5 816.0,709.2 816.5,713.4 817.0,705.7 817.5,714.7 818.0,706.0 818.5,717.5 819.0,712.1 819.5,716.6 820.0,707.2 820.5,713.1 821.0,710.1 821.5,717.0 822.0,711.7 822.5,716.5 823.0,712.8 823.5,717.2 824.0,709.9 824.5,714.5 825.0,712.8 825.5,715.6 826.0,708.5 826.5,719.9 827.0,709.8 827.5,717.1 828.0,710.5 828.5,720.0 829.0,707.9 829.5,719.5 830.0,707.5 830.5,720.5 831.0,710.1 831.5,719.4 832.0,706.0 832.5,722.1 833.0,712.0 833.5,718.6 834.0,714.9 834.5,719.4 835.0,709.9 835.5,721.4 836.0,709.6 836.5,721.3 837.0,715.5 837.5,720.2 838.0,709.4 838.5,721.3 839.0,709.9 839.5,717.5 840.0,710.1 840.5,725.7 841.0,710.7 841.5,723.4 842.0,715.1 842.5,720.6 843.0,716.0 843.5,723.0 844.0,716.8 844.5,725.8 845.0,711.8 845.5,720.4 846.0,712.2 846.5,721.9 847.0,717.9 847.5,726.6 848.0,716.5 848.5,722.9 849.0,717.8 849.5,725.1 850.0,715.5 850.5,724.7 851.0,712.9 851.5,723.4 852.0,715.2 852.5,722.0 853.0,716.9 853.5,721.4 854.0,718.8 854.5,727.1 855.0,718.9 855.5,723.0 856.0,717.6 856.5,729.0 857.0,720.3 857.5,722.4 858.0,715.5 858.5,726.6 859.0,721.4 859.5,728.0 860.0,716.3 860.5,724.8 861.0,716.1 861.5,726.4 862.0,718.0 862.5,729.3 863.0,714.7 863.5,729.4 864.0,721.2 864.5,728.6 865.0,716.6 865.5,729.4 866.0,719.4 866.5,725.2 867.0,715.3 867.5,723.9 868.0,721.9 868.5,731.1 869.0,720.2 869.5,732.2 870.0,715.7 870.5,725.7 871.0,721.4 871.5,727.4 872.0,720.3 872.5,733.6 873.0,718.1 873.5,727.7 874.0,720.9 874.5,729.4 875.0,724.4 875.5,728.7 876.0,725.3 876.5,726.1 877.0,719.8 877.5,731.8 878.0,720.1 878.5,734.1 879.0,720.8 879.5,736.5 880.0,726.1 880.5,733.0 881.0,725.9 881.5,734.3 882.0,723.4 882.5,729.0 883.0,724.7 883.5,735.4 884.0,718.9 884.5,733.0 885.0,722.7 885.5,729.8 886.0,717.9 886.5,737.1 887.0,727.4 887.5,730.6 888.0,727.3 888.5,731.2 889.0,718.5 889.5,734.1 890.0,724.0 890.5,737.7 891.0,717.8 891.5,734.1 892.0,720.6 892.5,736.9 893.0,727.4 893.5,732.5 894.0,730.0 894.5,738.6 895.0,725.7 895.5,736.4 896.0,721.2 896.5,733.9 897.0,726.8 897.5,738.0 898.0,728.1 898.5,733.6 899.0,725.5 899.5,739.9 900.0,728.6 900.5,740.4 901.0,723.1 901.5,743.1 902.0,727.6 902.5,737.5 903.0,730.3 903.5,735.3 904.0,732.8 904.5,738.9 905.0,725.9 905.5,742.9 906.0,734.2 906.5,746.9 907.0,733.3 907.5,738.7 908.0,725.2 908.5,744.1 909.0,725.9 909.5,743.7 910.0,731.6 910.5,744.0 911.0,733.8 911.5,741.3 912.0,728.8 912.5,750.4 913.0,728.2 913.5,747.9 914.0,727.4 914.5,747.1 915.0,729.0 915.5,752.1 916.0,733.3 916.5,751.9 917.0,729.1 917.5,742.2 918.0,738.9 918.5,747.0 919.0,734.6 919.5,749.5 920.0,741.7 920.5,751.8 921.0,734.5 921.5,756.3 922.0,737.4 922.5,749.1 923.0,740.1 923.5,751.3 924.0,737.5 924.5,745.7 925.0,741.3 925.5,755.9 926.0,734.7 926.5,756.5 927.0,734.2 927.5,757.6 928.0,741.5 928.5,757.6 929.0,733.2 929.5,747.0 930.0,733.5 930.5,753.3 931.0,747.3 931.5,759.6 932.0,738.2 932.5,753.4 933.0,741.7 933.5,750.7 934.0,737.4 934.5,762.2 935.0,740.0 935.5,754.5 936.0,747.3 936.5,761.9 937.0,749.9 937.5,752.5 938.0,741.2 938.5,756.9 939.0,746.9 939.5,761.5 940.0,751.8 940.5,757.6 941.0,741.4 941.5,757.8 942.0,741.0 942.5,758.6 943.0,746.4 943.5,761.7 944.0,748.4 944.5,769.5 945.0,753.8 945.5,757.5 946.0,744.7 946.5,771.2 947.0,757.7 947.5,761.2 948.0,749.9 948.5,763.2 949.0,750.9 949.5,760.2 950.0,754.2 950.5,772.3 951.0,749.0 951.5,770.3 952.0,748.9 952.5,764.5 953.0,758.3 953.5,777.2 954.0,753.7 954.5,773.3 955.0,763.5 955.5,779.3 956.0,763.2 956.5,779.1 957.0,755.3 957.5,768.3 958.0,764.9 958.5,779.4 959.0,764.8 959.5,773.0 960.0,760.4 960.5,779.7 961.0,757.4 961.5,774.7 962.0,767.1 962.5,777.5 963.0,767.6 963.5,780.0 964.0,768.7 964.5,779.0 965.0,763.0 965.5,779.6 966.0,772.7 966.5,785.5 967.0,773.1 967.5,791.6 968.0,768.7 968.5,788.4 969.0,763.6 969.5,786.9 970.0,761.4 970.5,794.9 971.0,765.5 971.5,793.0 972.0,772.2 972.5,795.8 973.0,775.1 973.5,788.5 974.0,760.3 974.5,785.1 975.0,776.9 975.5,793.5 976.0,770.0 976.5,794.9 977.0,775.5 977.5,805.2 978.0,770.4 978.5,798.9 979.0,766.7 979.5,804.0 980.0,778.9 980.5,806.4 981.0,763.6 981.5,788.8 982.0,770.7 982.5,807.8 983.0,766.2 983.5,804.2 984.0,778.1 984.5,799.3 985.0,781.4 985.5,799.1 986.0,773.4 986.5,808.4 987.0,774.4 987.5,801.5 988.0,768.8 988.5,796.5 989.0,766.9 989.5,800.3 990.0,768.0 990.5,800.3 991.0,767.3 991.5,792.9 992.0,773.9 992.5,809.5 993.0,770.5 993.5,800.8 994.0,775.3 994.5,801.2 995.0,770.3 995.5,791.4 996.0,774.1 996.5,804.0 997.0,779.1 997.5,799.9 998.0,776.5 998.5,799.8 999.0,790.3 999.5,797.2 1000.0,771.3 1000.5,796.0 1001.0,778.7 1001.5,809.2 1002.0,772.7 1002.5,798.4 1003.0,788.2 1003.5,797.4 1004.0,785.1 1004.5,793.4 1005.0,771.6 1005.5,798.6 1006.0,772.1 1006.5,791.8 1007.0,775.5 1007.5,802.3 1008.0,778.7 1008.5,796.0 1009.0,789.0 1009.5,802.6 1010.0,777.7 1010.5,799.1 1011.0,770.1 1011.5,799.4 1012.0,784.3 1012.5,802.0 1013.0,780.5 1013.5,791.6 1014.0,781.5 1014.5,799.9 1015.0,771.6 1015.5,807.5 1016.0,771.6 1016.5,806.6 1017.0,788.1 1017.5,802.1 1018.0,770.9 1018.5,804.7 1019.0,780.0 1019.5,791.6 1020.0,774.7 1020.5,806.3 1021.0,787.5 1021.5,798.2 1022.0,787.5 1022.5,808.3 1023.0,773.3 1023.5,791.2 1024.0,781.2 1024.5,788.4 1025.0,772.5 1025.5,802.9 1026.0,784.5 1026.5,804.6 1027.0,773.5 1027.5,804.0 1028.0,774.2 1028.5,784.2 1029.0,781.7 1029.5,796.8 1030.0,773.5 1030.5,788.9 1031.0,763.1 1031.5,788.3 1032.0,773.0 1032.5,777.5 1033.0,769.2 1033.5,787.0 1034.0,768.8 1034.5,783.4 1035.0,759.5 1035.5,774.4 1036.0,756.5 1036.5,785.7 1037.0,752.8 1037.5,784.3 1038.0,754.2 1038.5,780.3 1039.0,764.0 1039.5,783.0 1040.0,747.8 1040.5,765.3 1041.0,751.3 1041.5,766.7 1042.0,743.4 1042.5,776.7 1043.0,754.1 1043.5,760.5 1044.0,744.5 1044.5,759.6 1045.0,746.3 1045.5,753.3 1046.0,748.2 1046.5,760.1 1047.0,735.2 1047.5,754.5 1048.0,730.5 1048.5,752.7 1049.0,734.6 1049.5,757.1 1050.0,728.5 1050.5,755.3 1051.0,730.3 1051.5,754.1 1052.0,727.7 1052.5,744.4 1053.0,724.3 1053.5,746.9 1054.0,725.9 1054.5,736.0 1055.0,718.9 1055.5,740.5 1056.0,718.1 1056.5,728.0 1057.0,726.1 1057.5,736.2 1058.0,720.9 1058.5,731.6 1059.0,721.6 1059.5,726.0 1060.0,716.9 1060.5,719.3 1061.0,713.1 1061.5,722.1 1062.0,714.7 1062.5,720.9 1063.0,710.9 1063.5,717.3 1064.0,705.9 1064.5,721.7 1065.0,710.1 1065.5,712.1 1066.0,706.5 1066.5,710.4 1067.0,705.5 1067.5,708.4 1068.0,706.2 1068.5,706.6 1069.0,702.9 1069.5,706.4 1070.0,703.4 1070.5,705.9 1071.0,703.8 1071.5,705.7 1072.0,702.4 1072.5,703.6 1073.0,701.1 1073.5,702.8 1074.0,699.3 1074.5,701.0 1075.0,700.2 1075.5,700.5 1076.0,698.2 1076.5,700.1 1077.0,696.3 1077.5,700.6 1078.0,697.3 1078.5,698.2 1079.0,695.7 1079.5,699.5 1080.0,694.7 1080.5,698.4 1081.0,694.4 1081.5,696.2 1082.0,694.9 1082.5,696.5 1083.0,694.7 1083.5,697.4 1084.0,692.0 1084.5,697.4 1085.0,694.3 1085.5,697.8 1086.0,692.3 1086.5,694.8 1087.0,691.8 1087.5,694.9 1088.0,694.5 1088.5,701.0 1089.0,691.1 1089.5,696.7 1090.0,693.7 1090.5,697.9 1091.0,691.6 1091.5,695.7 1092.0,694.5 1092.5,695.8 1093.0,690.6 1093.5,694.8 1094.0,692.8 1094.5,695.6 1095.0,691.6 1095.5,697.0 1096.0,691.2 1096.5,696.2 1097.0,691.6 1097.5,695.2 1098.0,691.3 1098.5,697.6 1099.0,692.2 1099.5,697.3 1100.0,691.8 1100.5,695.2 1101.0,694.3 1101.5,697.1 1102.0,690.7 1102.5,696.6 1103.0,694.0 1103.5,698.3 1104.0,694.0 1104.5,698.0 1105.0,691.3 1105.5,695.9 1106.0,694.2 1106.5,699.3 1107.0,693.2 1107.5,696.5 1108.0,691.3 1108.5,698.0 1109.0,692.6 1109.5,695.4 1110.0,692.1 1110.5,697.6 1111.0,693.3 1111.5,696.9 1112.0,690.6 1112.5,698.3 1113.0,692.3 1113.5,698.4 1114.0,692.8 1114.5,695.8 1115.0,693.3 1115.5,696.2 1116.0,691.6 1116.5,696.3 1117.0,691.2 1117.5,695.6 1118.0,691.0 1118.5,698.2 1119.0,690.3 1119.5,696.1 1120.0,693.6 1120.5,695.2 1121.0,691.2 1121.5,697.9 1122.0,690.7 1122.5,695.0 1123.0,692.3 1123.5,696.2 1124.0,692.2 1124.5,699.0 1125.0,690.6 1125.5,694.2 1126.0,691.0 1126.5,696.2 1127.0,692.0 1127.5,694.1 1128.0,689.8 1128.5,696.3 1129.0,686.9 1129.5,695.0 1130.0,689.8 1130.5,696.1 1131.0,692.3 1131.5,694.2 1132.0,690.1 1132.5,696.9 1133.0,692.3 1133.5,695.8 1134.0,690.1 1134.5,696.3 1135.0,690.0 1135.5,696.9 1136.0,690.1 1136.5,697.7 1137.0,690.1 1137.5,696.3 1138.0,690.0 1138.5,694.2 1139.0,690.1 1139.5,694.7 1140.0,693.5 1140.5,696.6 1141.0,691.0 1141.5,698.1 1142.0,691.0 1142.5,700.2 1143.0,689.7 1143.5,695.4 1144.0,692.5 1144.5,697.9 1145.0,691.2 1145.5,696.7 1146.0,693.0 1146.5,695.2 1147.0,692.2 1147.5,694.5 1148.0,689.4 1148.5,697.2 1149.0,690.7 1149.5,696.7 1150.0,690.2 1150.5,693.9 1151.0,690.2 1151.5,697.6 1152.0,692.8 1152.5,698.2 1153.0,690.6 1153.5,696.6 1154.0,691.1 1154.5,694.2 1155.0,692.5 1155.5,696.4 1156.0,693.7 1156.5,695.0 1157.0,693.2 1157.5,696.1 1158.0,690.9 1158.5,696.0 1159.0,692.9 1159.5,695.2 1160.0,690.5 1160.5,694.6 1161.0,692.1 1161.5,699.5 1162.0,692.2 1162.5,696.6 1163.0,693.2 1163.5,694.9 1164.0,691.6 1164.5,697.2 1165.0,692.9 1165.5,694.9 1166.0,692.0 1166.5,697.4 1167.0,690.0 1167.5,695.9 1168.0,690.4 1168.5,698.1 1169.0,689.6 1169.5,695.9 1170.0,692.3 1170.5,697.2 1171.0,690.3 1171.5,699.9 1172.0,692.3 1172.5,696.5 1173.0,691.0 1173.5,696.6 1174.0,690.8 1174.5,695.8 1175.0,692.8 1175.5,694.5 1176.0,692.1 1176.5,700.7 1177.0,691.6 1177.5,695.7 1178.0,691.6 1178.5,696.7 1179.0,689.5 1179.5,696.9 1180.0,691.0 1180.5,696.9 1181.0,691.7 1181.5,696.3 1182.0,693.5 1182.5,695.9 1183.0,689.4 1183.5,697.4 1184.0,692.5 1184.5,694.9 1185.0,690.3 1185.5,695.6 1186.0,692.9 1186.5,695.0 1187.0,692.2 1187.5,696.7 1188.0,692.9 1188.5,696.3 1189.0,691.6 1189.5,695.5 1190.0,688.1 1190.5,695.3 1191.0,692.3 1191.5,695.2 1192.0,690.1 1192.5,695.4 1193.0,693.7 1193.5,697.1 1194.0,690.7 1194.5,697.1 1195.0,690.5 1195.5,696.8 1196.0,691.7 1196.5,694.9 1197.0,689.7 1197.5,695.7 1198.0,690.4 1198.5,697.1 1199.0,693.5 1199.5,694.8 1200.0,693.5 1200.5,695.4 1201.0,690.7 1201.5,696.0 1202.0,689.7 1202.5,698.3 1203.0,693.7 1203.5,695.4 1204.0,689.8 1204.5,696.8 1205.0,692.7 1205.5,695.4 1206.0,691.3 1206.5,694.0 1207.0,688.3 1207.5,695.7 1208.0,693.9 1208.5,697.6 1209.0,687.4 1209.5,696.4 1210.0,692.1 1210.5,697.0 1211.0,690.5 1211.5,695.7 1212.0,690.8 1212.5,695.1 1213.0,692.3 1213.5,695.1 1214.0,693.6 1214.5,694.1 1215.0,692.6 1215.5,698.3 1216.0,689.9 1216.5,695.7 1217.0,692.0 1217.5,695.4 1218.0,690.9 1218.5,696.8 1219.0,690.1 1219.5,695.2 1220.0,691.3 1220.5,697.2 1221.0,692.2 1221.5,694.2 1222.0,693.8 1222.5,698.8 1223.0,692.3 1223.5,694.1 1224.0,693.3 1224.5,698.0 1225.0,691.6 1225.5,695.7 1226.0,691.4 1226.5,696.8 1227.0,690.6 1227.5,695.5 1228.0,692.2 1228.5,696.8 1229.0,693.1 1229.5,695.3 1230.0,690.9 1230.5,695.6 1231.0,691.7 1231.5,695.7 1232.0,692.0 1232.5,695.8 1233.0,690.7 1233.5,696.0 1234.0,689.7 1234.5,697.0 1235.0,692.7 1235.5,697.5 1236.0,690.3 1236.5,696.5 1237.0,692.2 1237.5,697.6 1238.0,692.7 1238.5,694.2 1239.0,689.7 1239.5,697.9 1240.0,693.7 1240.5,695.7 1241.0,689.7 1241.5,697.1 1242.0,691.8 1242.5,698.6 1243.0,694.1 1243.5,697.4 1244.0,691.5 1244.5,695.0 1245.0,693.2 1245.5,697.5 1246.0,692.7 1246.5,701.4 1247.0,693.5 1247.5,702.9 1248.0,692.9 1248.5,697.9 1249.0,691.4 1249.5,694.4 1250.0,694.1 1250.5,696.5 1251.0,691.4 1251.5,697.8 1252.0,691.7 1252.5,696.5 1253.0,694.1 1253.5,696.1 1254.0,693.8 1254.5,694.4 1255.0,689.8 1255.5,696.0 1256.0,693.1 1256.5,695.4 1257.0,690.5 1257.5,694.9 1258.0,687.5 1258.5,695.0 1259.0,691.8 1259.5,697.3 1260.0,693.7 1260.5,698.7 1261.0,692.0 1261.5,698.6 1262.0,694.2 1262.5,697.2 1263.0,693.9 1263.5,702.9 1264.0,692.4 1264.5,696.0 1265.0,693.6 1265.5,698.2 1266.0,694.2 1266.5,697.5 1267.0,693.0 1267.5,695.1 1268.0,693.2 1268.5,698.1 1269.0,691.0 1269.5,695.6 1270.0,691.0 1270.5,697.8 1271.0,693.2 1271.5,695.4 1272.0,692.6 1272.5,694.9 1273.0,694.0 1273.5,697.7 1274.0,691.2 1274.5,695.4 1275.0,691.6 1275.5,694.6 1276.0,691.3 1276.5,695.0 1277.0,693.6 1277.5,698.4 1278.0,692.1 1278.5,698.7 1279.0,692.4 1279.5,702.4 1280.0,690.7 1280.5,695.1 1281.0,691.3 1281.5,699.6 1282.0,692.7 1282.5,698.2 1283.0,694.3 1283.5,697.8 1284.0,690.2 1284.5,697.9 1285.0,690.5 1285.5,697.5 1286.0,692.7 1286.5,697.3 1287.0,690.8 1287.5,694.4 1288.0,693.1 1288.5,694.4 1289.0,694.0 1289.5,697.0 1290.0,690.5 1290.5,697.9 1291.0,693.7 1291.5,698.7 1292.0,693.4 1292.5,694.4 1293.0,693.0 1293.5,700.2 1294.0,693.9 1294.5,697.1 1295.0,693.3 1295.5,698.8 1296.0,691.0 1296.5,698.1 1297.0,690.6 1297.5,698.5 1298.0,692.6 1298.5,695.4 1299.0,693.2 1299.5,698.6 1300.0,690.4 1300.5,697.6 1301.0,687.6 1301.5,697.9" fill="none" stroke="#008080" stroke-width="5.6" stroke-linejoin="round" stroke-linecap="round"/>
<polygon points="576.0,747.0 577.0,746.6 578.0,745.9 579.0,746.5 580.0,745.9 581.0,746.8 582.0,746.5 583.0,747.2 584.0,746.5 585.0,746.9 586.0,746.7 587.0,747.2 588.0,747.0 589.0,746.3 590.0,747.3 591.0,747.0 592.0,746.7 593.0,746.3 594.0,747.2 595.0,746.2 596.0,746.7 597.0,746.4 598.0,747.2 599.0,746.8 600.0,746.0 601.0,746.2 602.0,746.6 603.0,746.6 604.0,746.9 605.0,747.2 606.0,747.1 607.0,746.4 608.0,746.2 609.0,747.0 610.0,747.3 611.0,746.7 612.0,746.7 613.0,747.0 614.0,747.6 615.0,747.4 616.0,747.2 617.0,746.8 618.0,746.9 619.0,746.7 620.0,746.2 621.0,747.2 622.0,747.6 623.0,747.7 624.0,747.5 625.0,746.9 626.0,747.6 627.0,746.5 628.0,746.7 629.0,747.1 630.0,747.6 631.0,747.0 632.0,746.4 633.0,746.9 634.0,747.7 635.0,747.1 636.0,747.7 637.0,747.6 638.0,747.4 639.0,747.3 640.0,747.6 641.0,746.6 642.0,746.9 643.0,746.7 644.0,747.5 645.0,747.2 646.0,747.3 647.0,747.9 648.0,747.3 649.0,747.3 650.0,747.1 651.0,747.6 652.0,747.7 653.0,747.7 654.0,747.0 655.0,747.7 656.0,747.1 657.0,747.8 658.0,748.2 659.0,748.1 660.0,748.2 661.0,748.2 662.0,747.7 663.0,748.6 664.0,748.0 665.0,748.0 666.0,747.7 667.0,749.0 668.0,748.8 669.0,748.0 670.0,749.0 671.0,748.8 672.0,748.5 673.0,749.5 674.0,749.3 675.0,748.6 676.0,748.5 677.0,749.0 678.0,748.5 679.0,748.9 680.0,749.6 681.0,750.1 682.0,749.7 683.0,749.0 684.0,749.5 685.0,749.5 686.0,749.8 687.0,750.3 688.0,749.9 689.0,750.7 690.0,750.7 691.0,750.0 692.0,749.5 693.0,749.8 694.0,750.4 695.0,749.6 696.0,751.0 697.0,750.3 698.0,749.9 699.0,751.0 700.0,749.9 701.0,750.9 702.0,750.6 703.0,751.2 704.0,750.0 705.0,750.2 706.0,751.1 707.0,750.3 708.0,750.6 709.0,751.1 710.0,750.6 711.0,750.2 712.0,751.5 713.0,750.9 714.0,751.0 715.0,750.5 716.0,751.5 717.0,751.6 718.0,751.3 719.0,750.9 720.0,750.4 721.0,750.5 722.0,751.4 723.0,751.3 724.0,751.7 725.0,751.2 726.0,751.1 727.0,750.7 728.0,750.3 729.0,750.4 730.0,750.5 731.0,750.1 732.0,750.2 733.0,751.3 734.0,751.5 735.0,750.5 736.0,750.3 737.0,750.6 738.0,750.9 739.0,751.1 740.0,750.8 741.0,751.1 742.0,750.6 743.0,750.3 744.0,750.6 745.0,750.7 746.0,750.1 747.0,750.6 748.0,750.7 749.0,751.0 750.0,750.1 751.0,750.4 752.0,750.5 753.0,750.2 754.0,749.5 755.0,750.8 756.0,749.6 757.0,749.6 758.0,749.1 759.0,749.4 760.0,750.1 761.0,750.2 762.0,748.9 763.0,749.5 764.0,749.7 765.0,749.9 766.0,748.8 767.0,749.7 768.0,748.6 769.0,749.5 770.0,748.2 771.0,748.7 772.0,749.2 773.0,748.7 774.0,748.8 775.0,749.2 776.0,747.9 777.0,748.1 778.0,747.8 779.0,748.7 780.0,748.7 781.0,747.8 782.0,747.9 783.0,748.3 784.0,747.5 785.0,747.8 786.0,748.4 787.0,748.2 788.0,748.1 789.0,747.5 790.0,746.9 791.0,747.0 792.0,747.6 793.0,748.0 794.0,746.7 795.0,747.3 796.0,747.0 797.0,747.1 798.0,746.8 799.0,747.9 800.0,747.7 801.0,747.3 802.0,747.1 803.0,747.2 804.0,747.4 805.0,746.9 806.0,746.2 807.0,747.6 808.0,747.4 809.0,746.2 810.0,747.0 811.0,746.8 812.0,746.1 813.0,746.2 814.0,747.3 815.0,747.2 816.0,746.8 817.0,746.1 818.0,747.2 819.0,747.1 820.0,747.3 821.0,747.1 822.0,746.3 823.0,746.4 824.0,746.2 825.0,746.8 826.0,746.2 827.0,746.8 828.0,746.5 829.0,747.0 830.0,746.2 831.0,746.2 832.0,746.3 833.0,746.7 834.0,746.8 835.0,747.2 836.0,746.4 837.0,746.2 838.0,746.5 839.0,746.3 840.0,746.3 841.0,747.1 842.0,746.9 843.0,746.6 844.0,745.9 845.0,746.6 846.0,745.9 847.0,746.6 848.0,746.4 849.0,746.5 850.0,747.2 851.0,746.0 852.0,746.8 853.0,746.9 854.0,747.1 855.0,747.6 856.0,747.1 857.0,747.6 858.0,746.8 859.0,746.4 860.0,747.3 861.0,747.6 862.0,747.8 863.0,746.7 864.0,747.8 865.0,746.8 866.0,747.9 867.0,747.3 868.0,747.1 869.0,747.8 870.0,747.3 871.0,747.9 872.0,748.2 873.0,748.5 874.0,748.2 875.0,747.9 876.0,748.8 877.0,748.6 878.0,748.5 879.0,749.0 880.0,748.4 881.0,749.5 882.0,748.9 883.0,749.2 884.0,749.8 885.0,750.4 886.0,750.2 887.0,750.7 888.0,751.3 889.0,752.2 890.0,751.4 891.0,751.7 892.0,751.9 893.0,752.4 894.0,753.0 895.0,753.1 896.0,754.5 897.0,754.1 898.0,755.2 899.0,754.2 900.0,754.6 901.0,755.8 902.0,755.1 903.0,755.8 904.0,756.3 905.0,756.4 906.0,757.2 907.0,757.6 908.0,757.6 909.0,757.6 910.0,757.9 911.0,758.3 912.0,759.7 913.0,760.3 914.0,760.1 915.0,761.3 916.0,760.7 917.0,761.1 918.0,762.9 919.0,763.2 920.0,763.8 921.0,763.7 922.0,763.8 923.0,764.3 924.0,765.5 925.0,765.6 926.0,765.4 927.0,767.0 928.0,766.8 929.0,766.5 930.0,767.3 931.0,766.8 932.0,767.9 933.0,768.0 934.0,769.1 935.0,768.7 936.0,768.4 937.0,768.8 938.0,769.8 939.0,770.5 940.0,771.7 941.0,771.1 942.0,771.6 943.0,772.7 944.0,773.9 945.0,774.9 946.0,775.4 947.0,775.4 948.0,775.5 949.0,776.0 950.0,777.1 951.0,778.1 952.0,778.6 953.0,779.2 954.0,778.9 955.0,780.6 956.0,781.9 957.0,783.0 958.0,784.4 959.0,786.3 960.0,787.7 961.0,790.2 962.0,791.3 963.0,793.3 964.0,795.5 965.0,797.6 966.0,799.4 967.0,799.8 968.0,802.2 969.0,802.9 970.0,802.5 971.0,803.4 972.0,804.9 973.0,804.6 974.0,804.8 975.0,806.1 976.0,806.5 977.0,806.5 978.0,807.2 979.0,808.5 980.0,808.4 981.0,810.3 982.0,811.1 983.0,811.9 984.0,811.7 985.0,812.8 986.0,813.3 987.0,815.1 988.0,815.9 989.0,815.4 990.0,816.1 991.0,817.3 992.0,817.0 993.0,817.6 994.0,818.2 995.0,819.0 996.0,819.9 997.0,820.4 998.0,819.4 999.0,820.3 1000.0,820.9 1001.0,820.9 1002.0,822.2 1003.0,822.6 1004.0,823.5 1005.0,823.5 1006.0,824.1 1007.0,825.2 1008.0,825.5 1009.0,826.7 1010.0,827.0 1011.0,827.2 1012.0,829.5 1013.0,830.1 1014.0,831.0 1015.0,833.5 1016.0,836.3 1017.0,838.0 1018.0,841.9 1019.0,843.8 1020.0,846.8 1021.0,850.8 1022.0,854.7 1023.0,857.7 1024.0,861.0 1025.0,864.1 1026.0,867.1 1027.0,870.2 1028.0,873.7 1029.0,876.2 1030.0,879.7 1031.0,880.8 1032.0,883.4 1033.0,883.1 1034.0,883.1 1035.0,881.5 1036.0,879.3 1037.0,875.6 1038.0,872.9 1039.0,868.6 1040.0,865.2 1041.0,862.5 1042.0,859.2 1043.0,854.9 1044.0,852.1 1045.0,848.6 1046.0,844.9 1047.0,840.1 1048.0,835.9 1049.0,833.0 1050.0,828.8 1051.0,823.4 1052.0,819.1 1053.0,815.5 1054.0,812.4 1055.0,807.8 1056.0,806.0 1057.0,804.4 1058.0,801.6 1059.0,799.7 1060.0,797.4 1061.0,797.1 1062.0,794.1 1063.0,792.7 1064.0,791.9 1065.0,789.4 1066.0,786.8 1067.0,785.9 1068.0,783.0 1069.0,781.6 1070.0,779.6 1071.0,776.6 1072.0,775.1 1073.0,773.4 1074.0,770.6 1075.0,770.1 1076.0,768.5 1077.0,766.3 1078.0,764.2 1079.0,762.7 1080.0,761.0 1081.0,760.3 1082.0,759.4 1083.0,756.9 1084.0,756.4 1085.0,754.9 1086.0,752.7 1087.0,752.6 1088.0,751.2 1089.0,749.5 1090.0,749.2 1091.0,747.2 1092.0,746.1 1093.0,746.0 1094.0,745.2 1095.0,744.9 1096.0,744.0 1097.0,743.9 1098.0,742.5 1099.0,742.6 1100.0,742.2 1101.0,743.0 1102.0,742.6 1103.0,741.9 1104.0,742.6 1105.0,742.1 1106.0,742.4 1107.0,741.7 1108.0,741.7 1109.0,742.6 1110.0,742.7 1111.0,741.5 1112.0,741.8 1113.0,741.6 1114.0,741.5 1115.0,741.9 1116.0,742.4 1117.0,741.3 1118.0,741.3 1119.0,742.3 1120.0,742.3 1121.0,742.5 1122.0,741.2 1123.0,742.2 1124.0,741.8 1125.0,742.4 1126.0,741.4 1127.0,741.9 1128.0,742.2 1129.0,741.2 1130.0,742.3 1131.0,741.1 1132.0,741.4 1133.0,741.6 1134.0,741.1 1135.0,741.6 1136.0,740.9 1137.0,741.7 1138.0,741.1 1139.0,742.0 1140.0,741.3 1141.0,741.3 1142.0,741.8 1143.0,740.7 1144.0,742.0 1145.0,741.8 1146.0,741.3 1147.0,741.7 1148.0,741.0 1149.0,740.7 1150.0,741.6 1151.0,741.2 1152.0,741.0 1153.0,741.8 1154.0,741.9 1155.0,741.1 1156.0,740.5 1157.0,741.1 1158.0,740.4 1159.0,741.3 1160.0,741.8 1161.0,741.4 1162.0,741.1 1163.0,741.7 1164.0,740.6 1165.0,740.8 1166.0,741.5 1167.0,741.7 1168.0,741.6 1169.0,741.6 1170.0,740.3 1171.0,741.6 1172.0,741.6 1173.0,740.8 1174.0,740.6 1175.0,741.5 1176.0,741.2 1177.0,740.5 1178.0,740.5 1179.0,740.2 1180.0,740.8 1181.0,741.5 1182.0,740.7 1183.0,740.8 1184.0,741.5 1185.0,741.3 1186.0,740.8 1187.0,740.3 1188.0,741.3 1189.0,740.6 1190.0,740.5 1191.0,741.5 1192.0,741.0 1193.0,740.6 1194.0,740.6 1195.0,741.2 1196.0,741.4 1197.0,740.7 1198.0,740.7 1199.0,741.2 1200.0,740.3 1201.0,740.7 1202.0,740.4 1203.0,741.0 1204.0,741.5 1205.0,740.9 1206.0,740.6 1207.0,741.3 1208.0,741.4 1209.0,741.5 1210.0,741.0 1211.0,740.2 1212.0,741.3 1213.0,740.7 1214.0,740.7 1215.0,740.9 1216.0,740.1 1217.0,741.0 1218.0,741.5 1219.0,740.2 1220.0,741.4 1221.0,741.4 1222.0,740.9 1223.0,740.9 1224.0,741.3 1225.0,740.1 1226.0,740.7 1227.0,741.5 1228.0,740.5 1229.0,740.7 1230.0,740.3 1231.0,740.7 1232.0,740.6 1233.0,741.0 1234.0,740.5 1235.0,740.8 1236.0,741.3 1237.0,740.8 1238.0,740.8 1239.0,740.8 1240.0,740.6 1241.0,740.1 1242.0,741.2 1243.0,740.2 1244.0,740.7 1245.0,740.2 1246.0,740.5 1247.0,741.1 1248.0,741.1 1249.0,740.6 1250.0,740.7 1251.0,740.7 1252.0,740.8 1253.0,740.3 1254.0,741.1 1255.0,741.2 1256.0,740.3 1257.0,740.4 1258.0,740.7 1259.0,740.8 1260.0,740.9 1261.0,741.0 1262.0,741.5 1263.0,740.8 1264.0,740.4 1265.0,741.4 1266.0,740.8 1267.0,740.5 1268.0,740.7 1269.0,741.1 1270.0,740.3 1271.0,740.3 1272.0,741.4 1273.0,740.5 1274.0,741.0 1275.0,740.6 1276.0,740.3 1277.0,741.5 1278.0,741.5 1279.0,741.2 1280.0,740.7 1281.0,740.4 1282.0,740.8 1283.0,740.5 1284.0,741.4 1285.0,740.4 1286.0,740.3 1287.0,741.1 1288.0,740.7 1289.0,741.3 1290.0,740.7 1291.0,741.0 1292.0,740.1 1293.0,741.3 1294.0,740.1 1295.0,740.4 1296.0,740.6 1297.0,741.3 1298.0,741.0 1299.0,740.3 1300.0,740.4 1301.0,740.9 1301.5,753.2 1300.5,752.6 1299.5,753.1 1298.5,753.1 1297.5,752.8 1296.5,752.6 1295.5,753.7 1294.5,753.2 1293.5,752.9 1292.5,752.5 1291.5,752.4 1290.5,753.7 1289.5,753.1 1288.5,753.0 1287.5,752.3 1286.5,753.7 1285.5,753.0 1284.5,752.7 1283.5,753.6 1282.5,753.7 1281.5,753.7 1280.5,753.5 1279.5,752.9 1278.5,753.8 1277.5,753.7 1276.5,752.8 1275.5,752.9 1274.5,753.6 1273.5,753.3 1272.5,753.6 1271.5,752.6 1270.5,752.7 1269.5,752.8 1268.5,752.7 1267.5,753.8 1266.5,752.4 1265.5,753.3 1264.5,753.0 1263.5,753.3 1262.5,752.6 1261.5,752.4 1260.5,753.2 1259.5,752.9 1258.5,753.8 1257.5,752.9 1256.5,753.8 1255.5,753.7 1254.5,753.6 1253.5,753.0 1252.5,753.3 1251.5,752.6 1250.5,752.5 1249.5,752.4 1248.5,752.7 1247.5,752.8 1246.5,753.8 1245.5,753.6 1244.5,753.1 1243.5,753.0 1242.5,753.6 1241.5,752.7 1240.5,752.4 1239.5,753.2 1238.5,752.9 1237.5,752.5 1236.5,752.8 1235.5,752.8 1234.5,752.6 1233.5,752.6 1232.5,753.6 1231.5,753.9 1230.5,752.7 1229.5,753.6 1228.5,752.5 1227.5,752.7 1226.5,753.7 1225.5,753.3 1224.5,752.9 1223.5,753.9 1222.5,753.3 1221.5,753.7 1220.5,753.9 1219.5,753.9 1218.5,753.9 1217.5,753.2 1216.5,753.2 1215.5,752.9 1214.5,752.6 1213.5,753.3 1212.5,753.6 1211.5,753.8 1210.5,752.5 1209.5,752.7 1208.5,752.7 1207.5,752.8 1206.5,752.7 1205.5,754.0 1204.5,753.8 1203.5,753.7 1202.5,752.5 1201.5,752.7 1200.5,753.0 1199.5,753.4 1198.5,752.5 1197.5,752.7 1196.5,752.5 1195.5,753.2 1194.5,753.8 1193.5,753.7 1192.5,753.2 1191.5,753.4 1190.5,753.4 1189.5,753.8 1188.5,753.2 1187.5,752.6 1186.5,752.7 1185.5,753.6 1184.5,752.6 1183.5,753.2 1182.5,752.8 1181.5,753.6 1180.5,753.3 1179.5,752.7 1178.5,753.1 1177.5,753.2 1176.5,753.6 1175.5,753.4 1174.5,753.6 1173.5,752.7 1172.5,753.3 1171.5,753.1 1170.5,753.8 1169.5,754.0 1168.5,753.9 1167.5,752.9 1166.5,754.0 1165.5,753.8 1164.5,752.8 1163.5,753.6 1162.5,753.9 1161.5,753.2 1160.5,753.1 1159.5,753.2 1158.5,753.6 1157.5,754.1 1156.5,753.9 1155.5,753.8 1154.5,753.7 1153.5,753.0 1152.5,753.4 1151.5,754.1 1150.5,752.8 1149.5,753.1 1148.5,753.8 1147.5,753.5 1146.5,753.8 1145.5,754.0 1144.5,754.3 1143.5,753.5 1142.5,753.3 1141.5,753.4 1140.5,754.0 1139.5,754.2 1138.5,753.0 1137.5,753.7 1136.5,753.6 1135.5,754.0 1134.5,753.1 1133.5,754.3 1132.5,753.6 1131.5,753.8 1130.5,754.4 1129.5,754.3 1128.5,753.7 1127.5,754.1 1126.5,753.2 1125.5,754.5 1124.5,754.2 1123.5,754.6 1122.5,754.3 1121.5,754.7 1120.5,753.7 1119.5,753.9 1118.5,754.7 1117.5,753.4 1116.5,754.6 1115.5,754.6 1114.5,754.7 1113.5,753.8 1112.5,754.8 1111.5,753.5 1110.5,754.4 1109.5,753.6 1108.5,753.8 1107.5,754.0 1106.5,754.2 1105.5,754.5 1104.5,754.2 1103.5,754.1 1102.5,755.1 1101.5,754.6 1100.5,755.0 1099.5,753.8 1098.5,753.8 1097.5,754.6 1096.5,754.7 1095.5,754.1 1094.5,755.4 1093.5,754.6 1092.5,755.7 1091.5,756.4 1090.5,757.4 1089.5,759.0 1088.5,759.9 1087.5,761.4 1086.5,764.3 1085.5,765.4 1084.5,766.5 1083.5,768.2 1082.5,771.3 1081.5,773.3 1080.5,774.5 1079.5,776.5 1078.5,779.2 1077.5,782.0 1076.5,784.5 1075.5,787.2 1074.5,789.4 1073.5,793.6 1072.5,796.2 1071.5,798.7 1070.5,803.0 1069.5,807.3 1068.5,811.6 1067.5,815.4 1066.5,820.2 1065.5,825.6 1064.5,830.7 1063.5,837.6 1062.5,843.9 1061.5,852.1 1060.5,858.9 1059.5,867.3 1058.5,873.5 1057.5,882.1 1056.5,888.0 1055.5,895.9 1054.5,900.9 1053.5,906.5 1052.5,912.6 1051.5,916.4 1050.5,920.9 1049.5,925.2 1048.5,928.8 1047.5,934.0 1046.5,937.0 1045.5,940.6 1044.5,944.3 1043.5,946.5 1042.5,949.0 1041.5,952.2 1040.5,954.5 1039.5,958.2 1038.5,960.2 1037.5,963.4 1036.5,965.2 1035.5,967.3 1034.5,969.2 1033.5,971.5 1032.5,972.1 1031.5,973.6 1030.5,973.2 1029.5,973.9 1028.5,974.7 1027.5,974.4 1026.5,975.0 1025.5,975.0 1024.5,973.6 1023.5,973.8 1022.5,973.0 1021.5,973.1 1020.5,971.7 1019.5,970.4 1018.5,969.1 1017.5,967.8 1016.5,966.9 1015.5,965.7 1014.5,963.0 1013.5,961.8 1012.5,958.4 1011.5,956.5 1010.5,954.0 1009.5,950.5 1008.5,947.4 1007.5,944.5 1006.5,943.0 1005.5,939.3 1004.5,936.6 1003.5,934.7 1002.5,932.7 1001.5,929.4 1000.5,928.0 999.5,925.3 998.5,922.4 997.5,919.9 996.5,918.0 995.5,914.6 994.5,912.3 993.5,910.8 992.5,908.1 991.5,905.2 990.5,902.5 989.5,900.6 988.5,897.7 987.5,894.0 986.5,891.5 985.5,888.4 984.5,885.8 983.5,883.7 982.5,879.6 981.5,877.9 980.5,874.7 979.5,872.8 978.5,869.6 977.5,867.5 976.5,864.9 975.5,863.1 974.5,863.0 973.5,861.9 972.5,860.0 971.5,858.9 970.5,858.2 969.5,858.3 968.5,857.1 967.5,855.3 966.5,854.2 965.5,851.8 964.5,849.4 963.5,847.4 962.5,845.9 961.5,843.9 960.5,841.7 959.5,839.3 958.5,836.8 957.5,835.7 956.5,833.0 955.5,831.6 954.5,829.6 953.5,827.7 952.5,826.0 951.5,824.3 950.5,822.3 949.5,819.6 948.5,819.0 947.5,817.8 946.5,815.8 945.5,815.3 944.5,814.2 943.5,812.4 942.5,812.8 941.5,812.0 940.5,811.0 939.5,810.6 938.5,809.8 937.5,808.8 936.5,808.0 935.5,807.4 934.5,806.3 933.5,803.9 932.5,803.8 931.5,801.6 930.5,801.3 929.5,799.9 928.5,799.1 927.5,797.8 926.5,796.3 925.5,794.8 924.5,793.5 923.5,792.0 922.5,791.4 921.5,790.6 920.5,789.5 919.5,787.6 918.5,786.9 917.5,785.1 916.5,784.3 915.5,782.7 914.5,781.7 913.5,780.7 912.5,780.3 911.5,779.5 910.5,777.4 909.5,777.1 908.5,776.1 907.5,775.7 906.5,775.3 905.5,774.6 904.5,773.2 903.5,773.2 902.5,771.6 901.5,771.5 900.5,770.9 899.5,770.7 898.5,769.2 897.5,769.9 896.5,768.6 895.5,768.2 894.5,768.8 893.5,768.0 892.5,768.3 891.5,767.1 890.5,766.5 889.5,767.1 888.5,766.7 887.5,766.2 886.5,766.3 885.5,766.8 884.5,767.1 883.5,766.2 882.5,766.3 881.5,766.3 880.5,765.6 879.5,765.8 878.5,766.1 877.5,766.3 876.5,764.6 875.5,765.1 874.5,764.5 873.5,764.6 872.5,764.2 871.5,764.3 870.5,763.8 869.5,764.3 868.5,764.1 867.5,763.0 866.5,763.0 865.5,763.3 864.5,762.6 863.5,762.3 862.5,761.6 861.5,762.7 860.5,761.4 859.5,762.3 858.5,762.1 857.5,761.5 856.5,761.1 855.5,760.4 854.5,761.1 853.5,760.4 852.5,760.7 851.5,760.5 850.5,760.0 849.5,760.3 848.5,759.3 847.5,759.0 846.5,759.4 845.5,759.2 844.5,759.5 843.5,758.6 842.5,758.6 841.5,759.1 840.5,758.9 839.5,758.1 838.5,759.1 837.5,759.0 836.5,757.8 835.5,758.4 834.5,757.7 833.5,758.0 832.5,758.8 831.5,758.5 830.5,757.7 829.5,758.0 828.5,757.7 827.5,758.8 826.5,758.5 825.5,758.9 824.5,758.9 823.5,758.9 822.5,758.0 821.5,758.5 820.5,758.5 819.5,758.9 818.5,758.4 817.5,758.7 816.5,758.8 815.5,758.6 814.5,759.0 813.5,758.4 812.5,758.2 811.5,758.7 810.5,758.7 809.5,758.5 808.5,759.1 807.5,758.7 806.5,758.8 805.5,759.9 804.5,759.5 803.5,759.1 802.5,758.8 801.5,760.0 800.5,759.6 799.5,759.7 798.5,759.4 797.5,759.8 796.5,759.5 795.5,760.2 794.5,760.8 793.5,760.7 792.5,761.0 791.5,761.0 790.5,760.2 789.5,760.5 788.5,760.2 787.5,761.3 786.5,760.9 785.5,760.5 784.5,761.5 783.5,760.3 782.5,761.1 781.5,760.9 780.5,760.6 779.5,761.1 778.5,762.2 777.5,761.7 776.5,762.4 775.5,762.6 774.5,761.6 773.5,762.7 772.5,762.1 771.5,762.3 770.5,761.9 769.5,762.1 768.5,762.6 767.5,762.4 766.5,763.2 765.5,763.7 764.5,763.1 763.5,763.7 762.5,762.8 761.5,763.5 760.5,763.9 759.5,763.0 758.5,763.6 757.5,763.7 756.5,763.5 755.5,764.3 754.5,764.9 753.5,763.6 752.5,764.4 751.5,764.4 750.5,764.0 749.5,764.9 748.5,765.5 747.5,765.2 746.5,765.2 745.5,764.2 744.5,765.7 743.5,765.4 742.5,765.8 741.5,765.4 740.5,765.0 739.5,764.6 738.5,764.8 737.5,764.9 736.5,765.5 735.5,765.6 734.5,765.2 733.5,765.8 732.5,765.7 731.5,765.8 730.5,766.2 729.5,765.6 728.5,765.9 727.5,765.3 726.5,766.1 725.5,765.1 724.5,766.4 723.5,766.4 722.5,765.8 721.5,765.4 720.5,765.5 719.5,765.1 718.5,765.1 717.5,765.1 716.5,765.6 715.5,766.1 714.5,765.6 713.5,766.3 712.5,765.8 711.5,765.7 710.5,765.7 709.5,766.0 708.5,765.5 707.5,764.9 706.5,765.7 705.5,766.1 704.5,765.5 703.5,765.5 702.5,765.3 701.5,766.0 700.5,765.2 699.5,765.6 698.5,764.8 697.5,765.6 696.5,765.6 695.5,765.1 694.5,765.5 693.5,765.3 692.5,765.0 691.5,764.6 690.5,765.7 689.5,765.5 688.5,765.6 687.5,765.0 686.5,764.0 685.5,764.8 684.5,763.9 683.5,764.1 682.5,764.8 681.5,764.5 680.5,764.6 679.5,763.6 678.5,764.4 677.5,763.8 676.5,763.8 675.5,763.9 674.5,764.4 673.5,763.5 672.5,764.2 671.5,763.5 670.5,763.6 669.5,763.0 668.5,762.5 667.5,763.4 666.5,762.5 665.5,763.1 664.5,762.3 663.5,762.9 662.5,762.7 661.5,762.9 660.5,763.0 659.5,762.3 658.5,762.3 657.5,762.8 656.5,762.7 655.5,762.9 654.5,762.2 653.5,761.8 652.5,762.2 651.5,761.6 650.5,761.8 649.5,761.5 648.5,761.7 647.5,762.5 646.5,761.4 645.5,761.8 644.5,761.7 643.5,761.0 642.5,761.4 641.5,761.3 640.5,761.1 639.5,760.9 638.5,761.1 637.5,761.2 636.5,761.7 635.5,762.1 634.5,761.7 633.5,761.3 632.5,760.8 631.5,761.2 630.5,760.7 629.5,761.2 628.5,761.8 627.5,760.6 626.5,761.9 625.5,761.2 624.5,761.7 623.5,761.7 622.5,761.2 621.5,761.7 620.5,760.6 619.5,761.9 618.5,761.0 617.5,760.5 616.5,761.1 615.5,760.5 614.5,760.8 613.5,760.3 612.5,761.7 611.5,760.9 610.5,761.5 609.5,760.6 608.5,761.6 607.5,761.5 606.5,760.3 605.5,761.0 604.5,761.0 603.5,760.8 602.5,760.1 601.5,760.5 600.5,760.9 599.5,760.8 598.5,761.0 597.5,760.4 596.5,760.4 595.5,761.0 594.5,760.0 593.5,761.4 592.5,760.7 591.5,760.2 590.5,760.3 589.5,760.7 588.5,760.9 587.5,760.5 586.5,760.2 585.5,760.5 584.5,761.1 583.5,761.1 582.5,760.8 581.5,761.1 580.5,760.1 579.5,760.5 578.5,760.8 577.5,760.4 576.5,760.1" fill="#FF8000"/><polyline points="574.2,743.0 574.2,765.0 576.0,747.4 576.5,755.1 577.0,753.1 577.5,757.4 578.0,749.0 578.5,760.1 579.0,753.2 579.5,756.5 580.0,740.6 580.5,754.3 581.0,747.2 581.5,760.3 582.0,746.5 582.5,756.3 583.0,749.2 583.5,757.8 584.0,753.5 584.5,756.3 585.0,751.7 585.5,759.1 586.0,752.4 586.5,755.1 587.0,750.1 587.5,761.3 588.0,746.8 588.5,757.5 589.0,747.6 589.5,757.3 590.0,749.6 590.5,760.1 591.0,751.3 591.5,754.3 592.0,750.4 592.5,759.0 593.0,752.2 593.5,759.6 594.0,746.7 594.5,758.8 595.0,746.5 595.5,758.7 596.0,749.8 596.5,759.1 597.0,747.1 597.5,759.2 598.0,749.7 598.5,755.0 599.0,749.2 599.5,755.9 600.0,753.7 600.5,755.3 601.0,752.8 601.5,759.0 602.0,746.4 602.5,759.7 603.0,748.7 603.5,759.2 604.0,753.4 604.5,761.0 605.0,748.3 605.5,757.1 606.0,751.6 606.5,757.5 607.0,752.6 607.5,757.7 608.0,747.2 608.5,758.9 609.0,746.3 609.5,757.4 610.0,752.3 610.5,754.0 611.0,749.6 611.5,756.7 612.0,747.1 612.5,759.6 613.0,752.2 613.5,756.3 614.0,748.5 614.5,754.4 615.0,747.5 615.5,755.7 616.0,748.5 616.5,760.2 617.0,748.1 617.5,760.1 618.0,748.1 618.5,758.9 619.0,750.8 619.5,754.3 620.0,753.5 620.5,754.7 621.0,747.6 621.5,760.3 622.0,749.1 622.5,758.5 623.0,752.7 623.5,761.8 624.0,751.2 624.5,755.9 625.0,750.0 625.5,758.3 626.0,751.7 626.5,755.2 627.0,747.5 627.5,760.9 628.0,752.0 628.5,761.7 629.0,748.5 629.5,757.4 630.0,749.7 630.5,763.2 631.0,743.4 631.5,758.6 632.0,746.7 632.5,759.8 633.0,750.6 633.5,759.0 634.0,750.9 634.5,755.9 635.0,749.2 635.5,758.6 636.0,750.8 636.5,761.8 637.0,752.7 637.5,756.8 638.0,747.4 638.5,759.6 639.0,750.1 639.5,758.7 640.0,750.3 640.5,759.2 641.0,747.5 641.5,765.5 642.0,751.4 642.5,757.1 643.0,743.0 643.5,760.5 644.0,746.7 644.5,762.0 645.0,753.3 645.5,761.7 646.0,746.8 646.5,761.0 647.0,747.8 647.5,757.4 648.0,747.4 648.5,758.4 649.0,753.9 649.5,762.2 650.0,778.0 650.5,758.1 651.0,752.3 651.5,761.1 652.0,751.1 652.5,756.2 653.0,749.6 653.5,755.6 654.0,747.4 654.5,759.3 655.0,747.9 655.5,756.1 656.0,754.9 656.5,760.5 657.0,751.4 657.5,757.0 658.0,751.4 658.5,759.8 659.0,749.7 659.5,761.7 660.0,753.0 660.5,755.7 661.0,753.8 661.5,760.5 662.0,749.5 662.5,756.7 663.0,751.9 663.5,761.5 664.0,750.4 664.5,756.7 665.0,750.8 665.5,761.8 666.0,753.7 666.5,759.4 667.0,753.6 667.5,756.4 668.0,748.5 668.5,760.2 669.0,753.7 669.5,761.0 670.0,753.7 670.5,763.2 671.0,755.1 671.5,758.6 672.0,753.5 672.5,761.6 673.0,754.7 673.5,762.6 674.0,749.0 674.5,761.5 675.0,751.0 675.5,763.7 676.0,744.9 676.5,757.9 677.0,749.5 677.5,762.6 678.0,755.4 678.5,761.9 679.0,749.7 679.5,764.1 680.0,754.9 680.5,763.5 681.0,750.9 681.5,757.7 682.0,746.5 682.5,761.2 683.0,755.6 683.5,758.4 684.0,749.0 684.5,763.3 685.0,752.8 685.5,761.0 686.0,749.1 686.5,765.4 687.0,752.3 687.5,764.0 688.0,754.9 688.5,763.6 689.0,752.5 689.5,760.2 690.0,754.8 690.5,765.6 691.0,750.5 691.5,759.6 692.0,756.9 692.5,762.4 693.0,751.2 693.5,761.1 694.0,755.0 694.5,765.7 695.0,750.7 695.5,762.1 696.0,756.4 696.5,765.3 697.0,752.0 697.5,758.1 698.0,755.7 698.5,759.0 699.0,753.2 699.5,761.8 700.0,754.1 700.5,758.7 701.0,751.6 701.5,759.2 702.0,757.4 702.5,762.0 703.0,753.1 703.5,760.8 704.0,752.7 704.5,760.9 705.0,756.9 705.5,761.7 706.0,754.2 706.5,761.0 707.0,751.1 707.5,764.8 708.0,758.1 708.5,758.7 709.0,752.0 709.5,761.4 710.0,750.3 710.5,762.5 711.0,755.3 711.5,760.1 712.0,751.2 712.5,759.8 713.0,757.8 713.5,759.3 714.0,750.7 714.5,759.3 715.0,754.0 715.5,765.3 716.0,755.3 716.5,761.2 717.0,750.5 717.5,758.5 718.0,753.2 718.5,764.2 719.0,784.0 719.5,760.5 720.0,752.8 720.5,762.5 721.0,755.0 721.5,759.2 722.0,752.5 722.5,764.0 723.0,751.4 723.5,760.9 724.0,750.9 724.5,763.3 725.0,758.1 725.5,765.6 726.0,757.3 726.5,762.3 727.0,750.3 727.5,766.3 728.0,752.1 728.5,763.5 729.0,755.4 729.5,764.6 730.0,750.6 730.5,762.6 731.0,754.3 731.5,766.1 732.0,750.2 732.5,759.6 733.0,750.7 733.5,760.4 734.0,757.3 734.5,760.7 735.0,757.6 735.5,765.3 736.0,754.3 736.5,759.5 737.0,750.9 737.5,765.8 738.0,754.5 738.5,766.0 739.0,753.7 739.5,764.4 740.0,755.9 740.5,762.3 741.0,754.3 741.5,758.1 742.0,775.0 742.5,763.5 743.0,753.0 743.5,764.4 744.0,756.8 744.5,759.2 745.0,754.5 745.5,762.2 746.0,754.4 746.5,763.1 747.0,754.8 747.5,763.7 748.0,751.3 748.5,764.4 749.0,755.9 749.5,761.7 750.0,753.6 750.5,758.3 751.0,752.8 751.5,757.6 752.0,751.4 752.5,758.1 753.0,753.8 753.5,765.1 754.0,752.3 754.5,759.6 755.0,757.0 755.5,758.6 756.0,750.2 756.5,766.2 757.0,756.5 757.5,757.8 758.0,750.8 758.5,759.0 759.0,754.4 759.5,757.1 760.0,753.0 760.5,757.0 761.0,754.3 761.5,760.6 762.0,748.8 762.5,762.9 763.0,749.5 763.5,760.3 764.0,753.5 764.5,756.4 765.0,754.4 765.5,759.6 766.0,755.4 766.5,761.2 767.0,752.9 767.5,759.4 768.0,751.9 768.5,758.8 769.0,748.7 769.5,761.8 770.0,754.1 770.5,761.7 771.0,751.0 771.5,756.8 772.0,751.2 772.5,756.4 773.0,750.4 773.5,760.8 774.0,749.5 774.5,765.9 775.0,751.4 775.5,757.7 776.0,752.6 776.5,755.6 777.0,753.8 777.5,761.0 778.0,749.3 778.5,759.0 779.0,752.5 779.5,761.4 780.0,750.3 780.5,759.0 781.0,752.0 781.5,755.4 782.0,747.6 782.5,758.2 783.0,749.2 783.5,756.7 784.0,750.8 784.5,755.5 785.0,752.0 785.5,760.9 786.0,751.2 786.5,756.6 787.0,741.8 787.5,756.1 788.0,749.3 788.5,756.0 789.0,748.2 789.5,760.3 790.0,751.1 790.5,757.3 791.0,749.9 791.5,757.3 792.0,753.0 792.5,754.3 793.0,750.6 793.5,758.0 794.0,749.1 794.5,759.7 795.0,749.8 795.5,759.0 796.0,746.8 796.5,755.8 797.0,751.2 797.5,754.3 798.0,750.1 798.5,755.3 799.0,746.6 799.5,753.7 800.0,746.6 800.5,754.3 801.0,748.6 801.5,755.4 802.0,747.4 802.5,755.6 803.0,751.5 803.5,753.3 804.0,749.6 804.5,756.3 805.0,743.6 805.5,758.8 806.0,746.9 806.5,754.2 807.0,749.7 807.5,755.1 808.0,752.3 808.5,755.1 809.0,751.9 809.5,755.9 810.0,749.4 810.5,753.2 811.0,749.4 811.5,753.0 812.0,748.2 812.5,754.3 813.0,751.6 813.5,757.7 814.0,747.7 814.5,755.8 815.0,750.4 815.5,754.0 816.0,747.5 816.5,758.5 817.0,746.5 817.5,754.2 818.0,747.6 818.5,752.7 819.0,747.4 819.5,757.8 820.0,748.8 820.5,752.9 821.0,747.6 821.5,757.5 822.0,752.4 822.5,753.4 823.0,746.4 823.5,755.1 824.0,746.2 824.5,758.9 825.0,751.5 825.5,754.3 826.0,746.8 826.5,757.9 827.0,746.2 827.5,757.4 828.0,749.9 828.5,758.1 829.0,746.5 829.5,754.0 830.0,749.9 830.5,755.7 831.0,746.0 831.5,758.1 832.0,748.9 832.5,752.4 833.0,752.2 833.5,756.5 834.0,747.1 834.5,764.5 835.0,748.9 835.5,757.6 836.0,746.2 836.5,758.6 837.0,744.9 837.5,758.8 838.0,748.9 838.5,757.1 839.0,750.1 839.5,752.8 840.0,746.8 840.5,755.2 841.0,746.8 841.5,757.6 842.0,750.6 842.5,755.9 843.0,751.8 843.5,755.9 844.0,751.8 844.5,756.5 845.0,750.8 845.5,757.8 846.0,746.8 846.5,755.1 847.0,747.0 847.5,759.5 848.0,749.8 848.5,757.5 849.0,748.3 849.5,756.6 850.0,752.2 850.5,755.5 851.0,748.5 851.5,758.1 852.0,748.0 852.5,755.8 853.0,736.0 853.5,754.4 854.0,747.3 854.5,760.3 855.0,750.9 855.5,754.9 856.0,747.8 856.5,758.9 857.0,751.9 857.5,755.7 858.0,750.4 858.5,754.7 859.0,741.6 859.5,755.6 860.0,747.1 860.5,757.6 861.0,746.8 861.5,760.3 862.0,750.3 862.5,758.9 863.0,752.1 863.5,760.3 864.0,747.8 864.5,760.6 865.0,749.1 865.5,758.1 866.0,743.9 866.5,758.9 867.0,752.6 867.5,760.5 868.0,752.0 868.5,756.4 869.0,755.6 869.5,762.7 870.0,751.0 870.5,762.8 871.0,750.4 871.5,759.8 872.0,751.8 872.5,765.2 873.0,754.2 873.5,764.7 874.0,750.0 874.5,759.0 875.0,746.6 875.5,768.3 876.0,750.2 876.5,762.4 877.0,750.8 877.5,761.8 878.0,755.3 878.5,765.3 879.0,749.4 879.5,762.5 880.0,749.0 880.5,759.5 881.0,755.7 881.5,759.4 882.0,750.5 882.5,760.1 883.0,751.6 883.5,759.1 884.0,751.3 884.5,773.8 885.0,755.1 885.5,762.6 886.0,758.3 886.5,763.2 887.0,750.6 887.5,764.3 888.0,756.3 888.5,766.1 889.0,753.2 889.5,767.5 890.0,758.5 890.5,761.5 891.0,756.0 891.5,761.5 892.0,756.5 892.5,767.0 893.0,752.3 893.5,762.2 894.0,758.6 894.5,765.6 895.0,755.7 895.5,764.9 896.0,757.9 896.5,768.0 897.0,760.2 897.5,762.8 898.0,757.9 898.5,762.5 899.0,758.6 899.5,770.0 900.0,761.1 900.5,770.0 901.0,762.8 901.5,771.0 902.0,757.8 902.5,770.4 903.0,761.6 903.5,773.4 904.0,760.8 904.5,766.1 905.0,756.3 905.5,766.8 906.0,765.6 906.5,773.0 907.0,758.0 907.5,774.3 908.0,759.1 908.5,767.5 909.0,765.0 909.5,776.6 910.0,761.2 910.5,773.6 911.0,769.0 911.5,775.6 912.0,766.7 912.5,779.6 913.0,761.7 913.5,772.7 914.0,764.4 914.5,776.4 915.0,763.7 915.5,778.1 916.0,762.2 916.5,783.7 917.0,770.9 917.5,775.6 918.0,766.0 918.5,783.8 919.0,770.6 919.5,781.6 920.0,774.8 920.5,784.4 921.0,769.5 921.5,787.2 922.0,772.7 922.5,781.5 923.0,766.7 923.5,782.3 924.0,765.1 924.5,782.9 925.0,779.6 925.5,785.3 926.0,766.2 926.5,792.6 927.0,763.6 927.5,784.6 928.0,771.7 928.5,782.9 929.0,780.4 929.5,798.9 930.0,772.1 930.5,790.7 931.0,779.0 931.5,800.9 932.0,784.7 932.5,795.6 933.0,778.8 933.5,796.4 934.0,772.3 934.5,788.4 935.0,776.9 935.5,805.1 936.0,776.6 936.5,788.8 937.0,788.9 937.5,806.9 938.0,782.9 938.5,807.4 939.0,771.7 939.5,806.1 940.0,789.8 940.5,800.8 941.0,774.7 941.5,792.0 942.0,781.9 942.5,805.2 943.0,773.2 943.5,805.8 944.0,779.1 944.5,813.6 945.0,781.9 945.5,800.8 946.0,787.3 946.5,811.6 947.0,784.5 947.5,812.2 948.0,778.6 948.5,811.2 949.0,788.0 949.5,815.3 950.0,779.0 950.5,814.4 951.0,784.4 951.5,814.7 952.0,778.4 952.5,819.6 953.0,800.5 953.5,827.6 954.0,781.7 954.5,816.0 955.0,787.4 955.5,820.9 956.0,800.1 956.5,814.3 957.0,783.5 957.5,829.5 958.0,785.0 958.5,832.4 959.0,791.6 959.5,834.2 960.0,791.3 960.5,821.9 961.0,805.5 961.5,842.1 962.0,791.9 962.5,832.4 963.0,802.8 963.5,824.3 964.0,819.6 964.5,844.3 965.0,807.9 965.5,836.3 966.0,811.6 966.5,850.0 967.0,802.3 967.5,848.4 968.0,826.7 968.5,831.7 969.0,824.0 969.5,834.2 970.0,816.0 970.5,844.7 971.0,804.8 971.5,858.5 972.0,823.9 972.5,859.0 973.0,816.5 973.5,837.6 974.0,815.5 974.5,838.7 975.0,799.3 975.5,848.0 976.0,830.7 976.5,850.4 977.0,817.8 977.5,863.2 978.0,833.6 978.5,840.0 979.0,824.7 979.5,840.8 980.0,829.8 980.5,844.5 981.0,834.3 981.5,862.6 982.0,818.1 982.5,870.8 983.0,839.0 983.5,860.8 984.0,830.7 984.5,869.9 985.0,817.1 985.5,881.9 986.0,822.6 986.5,860.4 987.0,818.4 987.5,882.8 988.0,822.5 988.5,891.0 989.0,829.8 989.5,876.8 990.0,846.8 990.5,863.0 991.0,838.4 991.5,867.2 992.0,854.4 992.5,880.9 993.0,830.9 993.5,906.1 994.0,853.1 994.5,877.8 995.0,831.6 995.5,881.0 996.0,856.6 996.5,871.5 997.0,856.2 997.5,893.0 998.0,981.7 998.5,876.9 999.0,853.2 999.5,915.5 1000.0,836.1 1000.5,913.6 1001.0,871.6 1001.5,927.6 1002.0,850.5 1002.5,890.5 1003.0,858.2 1003.5,888.9 1004.0,838.0 1004.5,901.8 1005.0,847.4 1005.5,896.7 1006.0,841.2 1006.5,885.5 1007.0,877.3 1007.5,923.9 1008.0,838.7 1008.5,893.1 1009.0,848.5 1009.5,894.4 1010.0,850.1 1010.5,939.4 1011.0,848.3 1011.5,938.6 1012.0,884.8 1012.5,921.6 1013.0,845.6 1013.5,944.0 1014.0,850.8 1014.5,935.8 1015.0,892.5 1015.5,941.9 1016.0,842.8 1016.5,938.2 1017.0,860.4 1017.5,934.5 1018.0,879.3 1018.5,919.9 1019.0,1000.0 1019.5,908.4 1020.0,870.7 1020.5,921.7 1021.0,861.3 1021.5,958.8 1022.0,1022.7 1022.5,935.0 1023.0,873.8 1023.5,919.7 1024.0,877.3 1024.5,943.9 1025.0,917.1 1025.5,924.1 1026.0,907.8 1026.5,970.2 1027.0,897.8 1027.5,924.8 1028.0,884.9 1028.5,932.4 1029.0,894.1 1029.5,949.4 1030.0,886.5 1030.5,966.4 1031.0,903.6 1031.5,949.4 1032.0,926.6 1032.5,985.0 1033.0,888.0 1033.5,961.8 1034.0,906.0 1034.5,931.2 1035.0,887.2 1035.5,964.9 1036.0,875.9 1036.5,921.5 1037.0,911.1 1037.5,936.9 1038.0,909.6 1038.5,933.6 1039.0,906.0 1039.5,940.5 1040.0,886.3 1040.5,952.6 1041.0,889.7 1041.5,917.5 1042.0,881.5 1042.5,915.1 1043.0,858.1 1043.5,924.1 1044.0,858.1 1044.5,902.4 1045.0,856.8 1045.5,932.0 1046.0,872.7 1046.5,904.6 1047.0,867.4 1047.5,904.7 1048.0,855.2 1048.5,885.9 1049.0,832.7 1049.5,880.7 1050.0,866.0 1050.5,878.5 1051.0,849.6 1051.5,903.6 1052.0,857.8 1052.5,898.1 1053.0,859.1 1053.5,868.3 1054.0,818.4 1054.5,901.7 1055.0,815.7 1055.5,877.9 1056.0,845.3 1056.5,888.2 1057.0,844.3 1057.5,853.9 1058.0,802.2 1058.5,874.6 1059.0,806.9 1059.5,848.0 1060.0,803.5 1060.5,838.0 1061.0,814.4 1061.5,833.3 1062.0,811.8 1062.5,837.0 1063.0,808.8 1063.5,818.6 1064.0,806.3 1064.5,812.8 1065.0,802.5 1065.5,814.8 1066.0,798.8 1066.5,816.0 1067.0,798.9 1067.5,812.1 1068.0,793.4 1068.5,797.0 1069.0,787.6 1069.5,803.2 1070.0,777.8 1070.5,791.4 1071.0,777.6 1071.5,788.3 1072.0,779.2 1072.5,794.0 1073.0,775.6 1073.5,789.0 1074.0,777.5 1074.5,789.5 1075.0,776.1 1075.5,787.0 1076.0,772.2 1076.5,778.0 1077.0,770.6 1077.5,779.2 1078.0,765.0 1078.5,776.3 1079.0,764.5 1079.5,771.2 1080.0,762.6 1080.5,771.1 1081.0,762.4 1081.5,768.5 1082.0,762.7 1082.5,764.7 1083.0,763.2 1083.5,764.8 1084.0,759.2 1084.5,764.5 1085.0,754.1 1085.5,765.5 1086.0,756.6 1086.5,759.5 1087.0,756.6 1087.5,757.6 1088.0,751.8 1088.5,758.8 1089.0,751.8 1089.5,766.7 1090.0,770.0 1090.5,753.3 1091.0,747.3 1091.5,755.2 1092.0,747.4 1092.5,762.8 1093.0,750.4 1093.5,753.1 1094.0,749.2 1094.5,749.9 1095.0,746.0 1095.5,753.1 1096.0,742.9 1096.5,759.3 1097.0,745.2 1097.5,750.6 1098.0,748.0 1098.5,753.6 1099.0,742.9 1099.5,748.8 1100.0,742.4 1100.5,748.8 1101.0,742.2 1101.5,753.3 1102.0,747.6 1102.5,750.6 1103.0,744.3 1103.5,749.4 1104.0,745.8 1104.5,753.5 1105.0,748.3 1105.5,754.3 1106.0,745.8 1106.5,751.8 1107.0,742.7 1107.5,754.6 1108.0,744.4 1108.5,759.2 1109.0,743.1 1109.5,751.9 1110.0,743.0 1110.5,751.1 1111.0,748.0 1111.5,751.1 1112.0,743.3 1112.5,748.1 1113.0,748.1 1113.5,749.8 1114.0,742.0 1114.5,754.8 1115.0,746.2 1115.5,751.4 1116.0,737.8 1116.5,752.9 1117.0,746.3 1117.5,749.9 1118.0,747.6 1118.5,750.0 1119.0,746.5 1119.5,754.6 1120.0,744.8 1120.5,748.5 1121.0,742.9 1121.5,748.2 1122.0,741.7 1122.5,751.2 1123.0,742.8 1123.5,748.8 1124.0,745.9 1124.5,750.3 1125.0,741.1 1125.5,749.7 1126.0,746.3 1126.5,753.7 1127.0,741.6 1127.5,748.7 1128.0,742.5 1128.5,753.0 1129.0,746.1 1129.5,750.4 1130.0,743.7 1130.5,749.0 1131.0,743.5 1131.5,754.0 1132.0,745.2 1132.5,752.4 1133.0,743.4 1133.5,749.2 1134.0,744.9 1134.5,754.3 1135.0,743.4 1135.5,752.2 1136.0,741.0 1136.5,748.3 1137.0,741.1 1137.5,754.0 1138.0,743.9 1138.5,750.9 1139.0,743.8 1139.5,750.5 1140.0,741.2 1140.5,753.5 1141.0,741.7 1141.5,751.6 1142.0,747.0 1142.5,750.4 1143.0,744.7 1143.5,749.6 1144.0,741.2 1144.5,750.0 1145.0,742.5 1145.5,757.7 1146.0,736.1 1146.5,754.0 1147.0,747.4 1147.5,749.2 1148.0,746.4 1148.5,753.5 1149.0,740.9 1149.5,748.0 1150.0,746.0 1150.5,748.5 1151.0,743.0 1151.5,752.6 1152.0,747.1 1152.5,748.7 1153.0,739.4 1153.5,751.5 1154.0,746.2 1154.5,752.6 1155.0,743.1 1155.5,751.8 1156.0,747.0 1156.5,753.9 1157.0,742.0 1157.5,750.3 1158.0,742.2 1158.5,749.9 1159.0,745.3 1159.5,750.1 1160.0,746.8 1160.5,748.6 1161.0,742.4 1161.5,752.4 1162.0,747.2 1162.5,753.2 1163.0,747.1 1163.5,749.8 1164.0,744.3 1164.5,752.1 1165.0,741.1 1165.5,749.7 1166.0,745.3 1166.5,750.5 1167.0,745.4 1167.5,750.9 1168.0,743.6 1168.5,749.9 1169.0,742.4 1169.5,752.6 1170.0,742.0 1170.5,752.4 1171.0,741.4 1171.5,747.3 1172.0,740.9 1172.5,749.6 1173.0,736.4 1173.5,751.4 1174.0,741.3 1174.5,752.1 1175.0,741.5 1175.5,751.8 1176.0,746.9 1176.5,751.9 1177.0,744.0 1177.5,749.9 1178.0,743.7 1178.5,752.7 1179.0,744.3 1179.5,751.4 1180.0,744.3 1180.5,747.8 1181.0,746.8 1181.5,754.5 1182.0,746.9 1182.5,748.8 1183.0,742.9 1183.5,752.2 1184.0,744.3 1184.5,753.0 1185.0,746.2 1185.5,753.9 1186.0,741.4 1186.5,750.2 1187.0,743.9 1187.5,750.3 1188.0,744.2 1188.5,750.2 1189.0,744.2 1189.5,754.0 1190.0,745.6 1190.5,747.8 1191.0,742.9 1191.5,747.2 1192.0,744.1 1192.5,748.7 1193.0,742.0 1193.5,747.4 1194.0,742.5 1194.5,753.5 1195.0,741.6 1195.5,749.2 1196.0,744.2 1196.5,747.2 1197.0,746.4 1197.5,748.3 1198.0,740.6 1198.5,750.2 1199.0,745.6 1199.5,748.3 1200.0,742.0 1200.5,749.4 1201.0,743.6 1201.5,750.0 1202.0,747.0 1202.5,753.9 1203.0,743.6 1203.5,752.6 1204.0,742.5 1204.5,753.9 1205.0,742.3 1205.5,751.5 1206.0,746.1 1206.5,753.5 1207.0,742.4 1207.5,752.5 1208.0,744.9 1208.5,748.7 1209.0,744.7 1209.5,750.0 1210.0,741.2 1210.5,755.6 1211.0,741.0 1211.5,751.7 1212.0,741.9 1212.5,749.6 1213.0,745.7 1213.5,748.5 1214.0,742.9 1214.5,752.5 1215.0,742.3 1215.5,749.4 1216.0,740.1 1216.5,748.5 1217.0,740.1 1217.5,753.2 1218.0,740.1 1218.5,753.4 1219.0,744.0 1219.5,752.1 1220.0,742.4 1220.5,753.8 1221.0,741.4 1221.5,747.3 1222.0,740.4 1222.5,751.8 1223.0,743.1 1223.5,751.5 1224.0,743.7 1224.5,750.8 1225.0,742.4 1225.5,750.3 1226.0,740.2 1226.5,752.0 1227.0,744.7 1227.5,747.8 1228.0,740.1 1228.5,753.0 1229.0,745.1 1229.5,748.3 1230.0,746.4 1230.5,751.6 1231.0,742.2 1231.5,749.3 1232.0,745.1 1232.5,752.0 1233.0,741.7 1233.5,753.3 1234.0,741.9 1234.5,750.4 1235.0,745.3 1235.5,749.0 1236.0,743.1 1236.5,747.5 1237.0,745.3 1237.5,753.1 1238.0,746.0 1238.5,747.9 1239.0,746.2 1239.5,747.4 1240.0,738.3 1240.5,747.6 1241.0,743.9 1241.5,750.2 1242.0,746.9 1242.5,747.2 1243.0,742.8 1243.5,750.9 1244.0,745.1 1244.5,749.8 1245.0,740.5 1245.5,747.2 1246.0,744.7 1246.5,751.4 1247.0,742.6 1247.5,753.7 1248.0,743.3 1248.5,747.6 1249.0,744.5 1249.5,752.3 1250.0,743.8 1250.5,749.6 1251.0,740.0 1251.5,747.2 1252.0,740.0 1252.5,747.1 1253.0,740.7 1253.5,751.1 1254.0,744.3 1254.5,749.5 1255.0,743.1 1255.5,749.8 1256.0,741.5 1256.5,753.3 1257.0,742.9 1257.5,747.4 1258.0,744.3 1258.5,753.2 1259.0,744.4 1259.5,751.6 1260.0,745.9 1260.5,750.1 1261.0,745.1 1261.5,749.6 1262.0,740.1 1262.5,752.5 1263.0,745.0 1263.5,750.4 1264.0,746.5 1264.5,747.5 1265.0,746.0 1265.5,751.6 1266.0,741.1 1266.5,749.5 1267.0,740.4 1267.5,749.1 1268.0,746.7 1268.5,750.8 1269.0,744.5 1269.5,751.7 1270.0,741.1 1270.5,749.6 1271.0,745.5 1271.5,750.7 1272.0,741.2 1272.5,750.5 1273.0,744.7 1273.5,749.5 1274.0,739.7 1274.5,747.5 1275.0,745.3 1275.5,750.5 1276.0,746.4 1276.5,749.2 1277.0,742.0 1277.5,749.1 1278.0,740.1 1278.5,750.0 1279.0,746.6 1279.5,758.1 1280.0,745.8 1280.5,751.5 1281.0,742.1 1281.5,751.4 1282.0,743.6 1282.5,755.6 1283.0,741.6 1283.5,750.0 1284.0,746.3 1284.5,748.0 1285.0,741.3 1285.5,750.4 1286.0,746.0 1286.5,751.6 1287.0,742.1 1287.5,749.2 1288.0,743.6 1288.5,748.5 1289.0,743.4 1289.5,748.1 1290.0,742.6 1290.5,747.6 1291.0,744.0 1291.5,752.9 1292.0,740.8 1292.5,753.1 1293.0,744.5 1293.5,751.8 1294.0,745.7 1294.5,751.6 1295.0,742.5 1295.5,751.1 1296.0,745.1 1296.5,750.9 1297.0,744.1 1297.5,752.7 1298.0,741.8 1298.5,751.5 1299.0,736.4 1299.5,752.8 1300.0,743.5 1300.5,752.8 1301.0,745.1 1301.5,749.9" fill="none" stroke="#FF8000" stroke-width="5.6" stroke-linejoin="round" stroke-linecap="round"/>
<line x1="1000" y1="689.2" x2="1000" y2="874" stroke="#008080" stroke-width="5.8" stroke-dasharray="27.5 25"/>
<line x1="1030" y1="843.7" x2="1030" y2="1082.6" stroke="#FF8000" stroke-width="5.8" stroke-dasharray="27.5 25"/>
<text transform="translate(943.24,680.90) scale(0.88,1)" x="0" y="0" font-size="47" fill="#008080" textLength="131.83" lengthAdjust="spacing">548 °C</text>
<text transform="translate(1039.24,1068.90) scale(0.88,1)" x="0" y="0" font-size="47" fill="#FF8000" textLength="130.69" lengthAdjust="spacing">572 °C</text>
<path d="M326,106 C331.3,106 345.2,105.9 358,106.3 C370.8,106.7 390.2,107.8 403,108.5 C415.8,109.2 423.4,109.8 435,110.7 C446.6,111.6 462.3,112.7 472.6,113.8 C482.9,114.9 488.9,116.1 497,117.2 C505.1,118.3 511.7,118.9 521.4,120.6 C531.1,122.3 544.9,125.2 555.3,127.3 C565.7,129.4 574.3,131.5 583.8,133.4 C593.2,135.3 602,137 612,138.5 C622,140 628.8,140.8 643.5,142.3 C658.2,143.8 682.4,146.2 700,147.5 C717.6,148.8 734,149 749,150 C764,151 774.2,152.7 790,153.3 C805.8,153.9 828.2,153.2 844,153.7 C859.8,154.2 871.3,155.3 885,156.5 C898.7,157.7 908.7,158.4 926,161 C943.3,163.6 971.7,168.2 989,172 C1006.3,175.8 1016.2,179.5 1030,183.5 C1043.8,187.5 1056.7,189.8 1072,196 C1087.3,202.2 1109,213.8 1122,221 C1135,228.2 1140.3,233.5 1150,239.5 C1159.7,245.5 1166.2,247.5 1180,257 C1193.8,266.5 1218.3,284.2 1233,296.7 C1247.7,309.2 1256.8,318.9 1268,332 C1279.2,345.1 1289.4,360 1300,375 C1310.6,390 1322.4,407.1 1331.4,421.8 C1340.4,436.6 1346.8,449.6 1354.1,463.5 C1361.4,477.4 1368.3,491.4 1375.5,505.3 C1382.7,519.2 1389.6,532 1397.4,547 C1405.2,562 1414.7,581.6 1422.6,595.3 C1430.5,609 1438.8,620.5 1445,629.4 C1451.2,638.3 1455.3,643 1460,648.5 C1464.7,654 1468.3,658.6 1473,662.5 C1477.7,666.4 1482.8,669.9 1488,672 C1493.2,674.1 1497.3,674.5 1504.3,675.3 C1511.3,676.1 1517.4,676.5 1530,677 C1542.6,677.5 1551.7,677.8 1580,678.2 C1608.3,678.6 1663.3,679.3 1700,679.5 C1736.7,679.7 1769.1,679.4 1800,679.2 C1830.9,679 1871.2,678.4 1885.5,678.3" fill="none" stroke="#008080" stroke-width="19.8" stroke-linejoin="round" stroke-linecap="butt"/>
<path d="M325.5,107.4 C327.1,107.6 330.2,108 335,108.4 C339.8,108.8 346,109.2 354,109.9 C362,110.6 371.8,111.2 383,112.4 C394.2,113.7 409,115.9 421.5,117.4 C434,118.9 446.8,120.3 458,121.6 C469.2,122.8 478.7,123.8 489,124.9 C499.3,126 508.2,127.2 520,128.4 C531.8,129.7 546.7,131.1 560,132.4 C573.3,133.8 586.1,135.2 600,136.5 C613.9,137.8 628.5,139 643.5,140.5 C658.5,142 673.9,143.4 690,145.3 C706.1,147.2 725.8,149.7 740,151.7 C754.2,153.7 763.8,155.4 775,157.5 C786.2,159.6 795.7,161.6 807,164.2 C818.3,166.8 834.2,170.6 843,173 C851.8,175.4 849.7,174.8 860,178.4 C870.3,182 888.8,189.8 905,194.5 C921.2,199.2 940,203.4 957.5,206.5 C975,209.6 990.9,211.2 1010,213 C1029.1,214.8 1051.2,215.8 1072,217.6 C1092.8,219.4 1117,221.8 1135,224 C1153,226.2 1168.8,228.7 1180,231 C1191.2,233.3 1193.1,234.9 1202,238 C1210.9,241.1 1223,244.7 1233.5,249.4 C1244,254.2 1253.5,258.2 1264.8,266.5 C1276.1,274.8 1291,287.8 1301.4,299.3 C1311.9,310.9 1319,322.4 1327.5,335.8 C1336,349.2 1345.3,365.7 1352.5,380 C1359.7,394.3 1365,407.9 1370.5,421.8 C1376,435.7 1381,449.6 1385.4,463.5 C1389.8,477.4 1393.2,491.4 1397.1,505.3 C1401,519.2 1405.4,534.2 1408.9,547 C1412.4,559.8 1415,569 1418.3,581.8 C1421.6,594.5 1425.3,609.6 1428.7,623.5 C1432.1,637.4 1435.3,652.9 1438.5,665.3 C1441.7,677.7 1445.1,687.9 1448,698 C1450.9,708.1 1453.1,716.9 1456,726 C1458.9,735.1 1462.6,744.9 1465.6,752.6 C1468.6,760.3 1470.9,766.3 1474,772 C1477.1,777.7 1480.5,782.5 1484,787 C1487.5,791.5 1491,795.7 1495,799 C1499,802.3 1503.2,804.9 1508,807 C1512.8,809.1 1517.8,810.4 1524,811.6 C1530.2,812.9 1536.2,813.7 1545,814.5 C1553.8,815.3 1564.5,815.8 1577,816.3 C1589.5,816.8 1568.6,815.9 1620,817.4 C1671.4,818.9 1841.2,823.7 1885.5,825" fill="none" stroke="#FF8000" stroke-width="21" stroke-linejoin="round" stroke-linecap="butt"/>
<line x1="1072.4" y1="192.3" x2="1072.4" y2="1383.2" stroke="#FF40B0" stroke-width="6.9" stroke-dasharray="36.4 31.73"/>
<circle cx="1072.4" cy="1383.2" r="3.45" fill="#FF40B0"/>
<line x1="314.4" y1="189.9" x2="1853.3" y2="189.9" stroke="#008080" stroke-width="7.4" stroke-dasharray="36.6 31.57"/>
<line x1="322.7" y1="222" x2="1859.1" y2="222" stroke="#FF8000" stroke-width="7.6" stroke-dasharray="36.6 31.57"/>
<line x1="1508.4" y1="191" x2="1508.4" y2="630" stroke="#008080" stroke-width="6.8" stroke-dasharray="37 31.17"/>
<line x1="1721.7" y1="223" x2="1721.7" y2="762" stroke="#FF8000" stroke-width="6.8" stroke-dasharray="37 31.17"/>
<polygon points="1495.9,628.2 1520.9,628.2 1520.9,631.5 1512.6,664.8 1505,664.8 1495.9,631.5" fill="#008080"/>
<polygon points="1709,760.2 1734.2,760.2 1734.2,763.5 1723,809.6 1720.3,809.6 1709,763.5" fill="#FF8000"/>
<text x="1511.5" y="608" font-size="70" fill="#008080" textLength="187.8" lengthAdjust="spacingAndGlyphs">11.2%</text>
<text x="1624.3" y="892.9" font-size="70" fill="#FF8000" textLength="187.9" lengthAdjust="spacingAndGlyphs">14.1%</text>
<text x="1772.2" y="643" font-size="80.6" fill="#000" textLength="103.5" lengthAdjust="spacingAndGlyphs">(b)</text>
<text x="1777" y="785.9" font-size="80.6" fill="#000" textLength="98.6" lengthAdjust="spacingAndGlyphs">(a)</text>
</svg></body></html>
